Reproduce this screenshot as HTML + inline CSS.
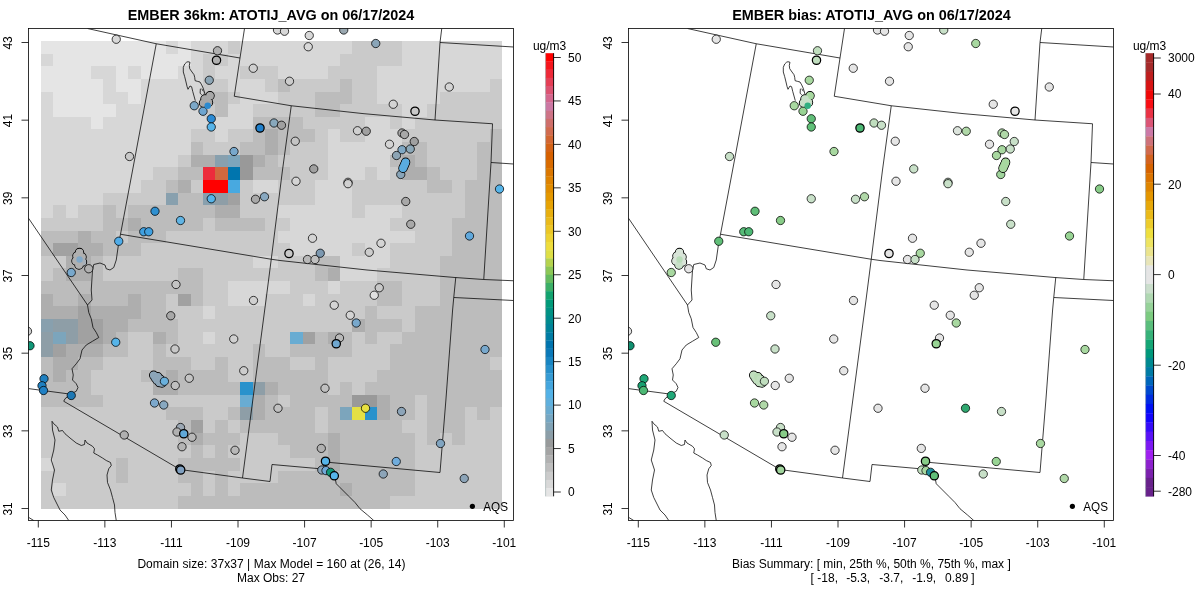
<!DOCTYPE html>
<html><head><meta charset="utf-8"><title>EMBER</title>
<style>
html,body{margin:0;padding:0;background:#fff;}
body{width:1200px;height:600px;overflow:hidden;}
svg{display:block;will-change:transform;}
text{font-family:"Liberation Sans",sans-serif;font-size:12px;fill:#000;}
.ttl{font-size:14.4px;font-weight:bold;}
.b polyline{fill:none;stroke:#000;stroke-width:0.75;stroke-linejoin:round;}
.p circle{stroke:#000;}
</style></head><body>
<svg width="1200" height="600" viewBox="0 0 1200 600">
<rect width="1200" height="600" fill="#fff"/>
<defs>
<clipPath id="cl"><rect x="28.5" y="28.5" width="485" height="492"/></clipPath>
<clipPath id="cr"><rect x="628.5" y="28.5" width="485" height="492"/></clipPath>
</defs>
<g clip-path="url(#cl)">
<g shape-rendering="crispEdges">
<rect x="41.00" y="41.00" width="124.89" height="12.94" fill="#E5E5E5"/>
<rect x="165.59" y="41.00" width="12.76" height="12.94" fill="#D7D7D7"/>
<rect x="178.05" y="41.00" width="12.76" height="12.94" fill="#E5E5E5"/>
<rect x="190.51" y="41.00" width="37.68" height="12.94" fill="#D7D7D7"/>
<rect x="227.89" y="41.00" width="12.76" height="12.94" fill="#CACACA"/>
<rect x="240.35" y="41.00" width="112.44" height="12.94" fill="#D7D7D7"/>
<rect x="352.49" y="41.00" width="50.14" height="12.94" fill="#CACACA"/>
<rect x="402.32" y="41.00" width="99.98" height="12.94" fill="#D7D7D7"/>
<rect x="41.00" y="53.64" width="12.76" height="12.94" fill="#D7D7D7"/>
<rect x="53.46" y="53.64" width="137.35" height="12.94" fill="#E5E5E5"/>
<rect x="190.51" y="53.64" width="12.76" height="12.94" fill="#D7D7D7"/>
<rect x="202.97" y="53.64" width="25.22" height="12.94" fill="#CACACA"/>
<rect x="227.89" y="53.64" width="112.44" height="12.94" fill="#D7D7D7"/>
<rect x="340.03" y="53.64" width="62.60" height="12.94" fill="#CACACA"/>
<rect x="402.32" y="53.64" width="99.98" height="12.94" fill="#D7D7D7"/>
<rect x="41.00" y="66.27" width="50.14" height="12.94" fill="#E5E5E5"/>
<rect x="90.84" y="66.27" width="25.22" height="12.94" fill="#D7D7D7"/>
<rect x="115.76" y="66.27" width="12.76" height="12.94" fill="#E5E5E5"/>
<rect x="128.22" y="66.27" width="12.76" height="12.94" fill="#D7D7D7"/>
<rect x="140.68" y="66.27" width="37.68" height="12.94" fill="#E5E5E5"/>
<rect x="178.05" y="66.27" width="25.22" height="12.94" fill="#D7D7D7"/>
<rect x="202.97" y="66.27" width="12.76" height="12.94" fill="#CACACA"/>
<rect x="215.43" y="66.27" width="25.22" height="12.94" fill="#D7D7D7"/>
<rect x="240.35" y="66.27" width="37.68" height="12.94" fill="#CACACA"/>
<rect x="277.73" y="66.27" width="50.14" height="12.94" fill="#D7D7D7"/>
<rect x="327.57" y="66.27" width="50.14" height="12.94" fill="#CACACA"/>
<rect x="377.41" y="66.27" width="124.89" height="12.94" fill="#D7D7D7"/>
<rect x="41.00" y="78.91" width="62.60" height="12.94" fill="#E5E5E5"/>
<rect x="103.30" y="78.91" width="12.76" height="12.94" fill="#D7D7D7"/>
<rect x="115.76" y="78.91" width="25.22" height="12.94" fill="#E5E5E5"/>
<rect x="140.68" y="78.91" width="62.60" height="12.94" fill="#D7D7D7"/>
<rect x="202.97" y="78.91" width="25.22" height="12.94" fill="#CACACA"/>
<rect x="227.89" y="78.91" width="37.68" height="12.94" fill="#D7D7D7"/>
<rect x="265.27" y="78.91" width="12.76" height="12.94" fill="#CACACA"/>
<rect x="277.73" y="78.91" width="12.76" height="12.94" fill="#BCBCBC"/>
<rect x="290.19" y="78.91" width="50.14" height="12.94" fill="#CACACA"/>
<rect x="340.03" y="78.91" width="12.76" height="12.94" fill="#BCBCBC"/>
<rect x="352.49" y="78.91" width="25.22" height="12.94" fill="#CACACA"/>
<rect x="377.41" y="78.91" width="112.44" height="12.94" fill="#D7D7D7"/>
<rect x="489.54" y="78.91" width="12.76" height="12.94" fill="#CACACA"/>
<rect x="41.00" y="91.54" width="12.76" height="12.94" fill="#D7D7D7"/>
<rect x="53.46" y="91.54" width="50.14" height="12.94" fill="#E5E5E5"/>
<rect x="103.30" y="91.54" width="25.22" height="12.94" fill="#D7D7D7"/>
<rect x="128.22" y="91.54" width="12.76" height="12.94" fill="#E5E5E5"/>
<rect x="140.68" y="91.54" width="62.60" height="12.94" fill="#D7D7D7"/>
<rect x="202.97" y="91.54" width="25.22" height="12.94" fill="#BCBCBC"/>
<rect x="227.89" y="91.54" width="12.76" height="12.94" fill="#CACACA"/>
<rect x="240.35" y="91.54" width="37.68" height="12.94" fill="#D7D7D7"/>
<rect x="277.73" y="91.54" width="37.68" height="12.94" fill="#CACACA"/>
<rect x="315.11" y="91.54" width="37.68" height="12.94" fill="#BCBCBC"/>
<rect x="352.49" y="91.54" width="25.22" height="12.94" fill="#CACACA"/>
<rect x="377.41" y="91.54" width="62.60" height="12.94" fill="#D7D7D7"/>
<rect x="439.70" y="91.54" width="62.60" height="12.94" fill="#CACACA"/>
<rect x="41.00" y="104.18" width="12.76" height="12.94" fill="#D7D7D7"/>
<rect x="53.46" y="104.18" width="62.60" height="12.94" fill="#E5E5E5"/>
<rect x="115.76" y="104.18" width="87.52" height="12.94" fill="#D7D7D7"/>
<rect x="202.97" y="104.18" width="12.76" height="12.94" fill="#CACACA"/>
<rect x="215.43" y="104.18" width="12.76" height="12.94" fill="#BCBCBC"/>
<rect x="227.89" y="104.18" width="25.22" height="12.94" fill="#D7D7D7"/>
<rect x="252.81" y="104.18" width="62.60" height="12.94" fill="#CACACA"/>
<rect x="315.11" y="104.18" width="25.22" height="12.94" fill="#BCBCBC"/>
<rect x="340.03" y="104.18" width="62.60" height="12.94" fill="#CACACA"/>
<rect x="402.32" y="104.18" width="25.22" height="12.94" fill="#D7D7D7"/>
<rect x="427.24" y="104.18" width="75.06" height="12.94" fill="#CACACA"/>
<rect x="41.00" y="116.81" width="50.14" height="12.94" fill="#D7D7D7"/>
<rect x="90.84" y="116.81" width="12.76" height="12.94" fill="#E5E5E5"/>
<rect x="103.30" y="116.81" width="149.81" height="12.94" fill="#D7D7D7"/>
<rect x="252.81" y="116.81" width="50.14" height="12.94" fill="#BCBCBC"/>
<rect x="302.65" y="116.81" width="62.60" height="12.94" fill="#CACACA"/>
<rect x="364.95" y="116.81" width="25.22" height="12.94" fill="#D7D7D7"/>
<rect x="389.86" y="116.81" width="12.76" height="12.94" fill="#CACACA"/>
<rect x="402.32" y="116.81" width="12.76" height="12.94" fill="#D7D7D7"/>
<rect x="414.78" y="116.81" width="87.52" height="12.94" fill="#CACACA"/>
<rect x="41.00" y="129.45" width="149.81" height="12.94" fill="#D7D7D7"/>
<rect x="190.51" y="129.45" width="25.22" height="12.94" fill="#CACACA"/>
<rect x="215.43" y="129.45" width="12.76" height="12.94" fill="#D7D7D7"/>
<rect x="227.89" y="129.45" width="25.22" height="12.94" fill="#CACACA"/>
<rect x="252.81" y="129.45" width="12.76" height="12.94" fill="#BCBCBC"/>
<rect x="265.27" y="129.45" width="12.76" height="12.94" fill="#AEAEAE"/>
<rect x="277.73" y="129.45" width="37.68" height="12.94" fill="#BCBCBC"/>
<rect x="315.11" y="129.45" width="12.76" height="12.94" fill="#CACACA"/>
<rect x="327.57" y="129.45" width="12.76" height="12.94" fill="#D7D7D7"/>
<rect x="340.03" y="129.45" width="25.22" height="12.94" fill="#CACACA"/>
<rect x="364.95" y="129.45" width="37.68" height="12.94" fill="#D7D7D7"/>
<rect x="402.32" y="129.45" width="87.52" height="12.94" fill="#CACACA"/>
<rect x="489.54" y="129.45" width="12.76" height="12.94" fill="#BCBCBC"/>
<rect x="41.00" y="142.08" width="149.81" height="12.94" fill="#D7D7D7"/>
<rect x="190.51" y="142.08" width="12.76" height="12.94" fill="#BCBCBC"/>
<rect x="202.97" y="142.08" width="37.68" height="12.94" fill="#CACACA"/>
<rect x="240.35" y="142.08" width="25.22" height="12.94" fill="#BCBCBC"/>
<rect x="265.27" y="142.08" width="12.76" height="12.94" fill="#AEAEAE"/>
<rect x="277.73" y="142.08" width="12.76" height="12.94" fill="#BCBCBC"/>
<rect x="290.19" y="142.08" width="37.68" height="12.94" fill="#CACACA"/>
<rect x="327.57" y="142.08" width="75.06" height="12.94" fill="#D7D7D7"/>
<rect x="402.32" y="142.08" width="25.22" height="12.94" fill="#BCBCBC"/>
<rect x="427.24" y="142.08" width="50.14" height="12.94" fill="#CACACA"/>
<rect x="477.08" y="142.08" width="25.22" height="12.94" fill="#BCBCBC"/>
<rect x="41.00" y="154.72" width="137.35" height="12.94" fill="#D7D7D7"/>
<rect x="178.05" y="154.72" width="12.76" height="12.94" fill="#CACACA"/>
<rect x="190.51" y="154.72" width="25.22" height="12.94" fill="#AEAEAE"/>
<rect x="215.43" y="154.72" width="12.76" height="12.94" fill="#88A0AE"/>
<rect x="227.89" y="154.72" width="12.76" height="12.94" fill="#7CA5BC"/>
<rect x="240.35" y="154.72" width="12.76" height="12.94" fill="#999999"/>
<rect x="252.81" y="154.72" width="12.76" height="12.94" fill="#AEAEAE"/>
<rect x="265.27" y="154.72" width="12.76" height="12.94" fill="#BCBCBC"/>
<rect x="277.73" y="154.72" width="50.14" height="12.94" fill="#CACACA"/>
<rect x="327.57" y="154.72" width="62.60" height="12.94" fill="#D7D7D7"/>
<rect x="389.86" y="154.72" width="12.76" height="12.94" fill="#BCBCBC"/>
<rect x="402.32" y="154.72" width="12.76" height="12.94" fill="#AEAEAE"/>
<rect x="414.78" y="154.72" width="12.76" height="12.94" fill="#BCBCBC"/>
<rect x="427.24" y="154.72" width="50.14" height="12.94" fill="#CACACA"/>
<rect x="477.08" y="154.72" width="25.22" height="12.94" fill="#BCBCBC"/>
<rect x="41.00" y="167.35" width="112.44" height="12.94" fill="#D7D7D7"/>
<rect x="153.14" y="167.35" width="25.22" height="12.94" fill="#CACACA"/>
<rect x="178.05" y="167.35" width="25.22" height="12.94" fill="#BCBCBC"/>
<rect x="202.97" y="167.35" width="12.76" height="12.94" fill="#ED2C3C"/>
<rect x="215.43" y="167.35" width="12.76" height="12.94" fill="#D2683F"/>
<rect x="227.89" y="167.35" width="12.76" height="12.94" fill="#0075AE"/>
<rect x="240.35" y="167.35" width="12.76" height="12.94" fill="#999999"/>
<rect x="252.81" y="167.35" width="37.68" height="12.94" fill="#BCBCBC"/>
<rect x="290.19" y="167.35" width="37.68" height="12.94" fill="#CACACA"/>
<rect x="327.57" y="167.35" width="37.68" height="12.94" fill="#D7D7D7"/>
<rect x="364.95" y="167.35" width="12.76" height="12.94" fill="#CACACA"/>
<rect x="377.41" y="167.35" width="12.76" height="12.94" fill="#D7D7D7"/>
<rect x="389.86" y="167.35" width="12.76" height="12.94" fill="#CACACA"/>
<rect x="402.32" y="167.35" width="25.22" height="12.94" fill="#AEAEAE"/>
<rect x="427.24" y="167.35" width="12.76" height="12.94" fill="#BCBCBC"/>
<rect x="439.70" y="167.35" width="37.68" height="12.94" fill="#CACACA"/>
<rect x="477.08" y="167.35" width="25.22" height="12.94" fill="#BCBCBC"/>
<rect x="41.00" y="179.99" width="99.98" height="12.94" fill="#D7D7D7"/>
<rect x="140.68" y="179.99" width="25.22" height="12.94" fill="#CACACA"/>
<rect x="165.59" y="179.99" width="12.76" height="12.94" fill="#BCBCBC"/>
<rect x="178.05" y="179.99" width="12.76" height="12.94" fill="#AEAEAE"/>
<rect x="190.51" y="179.99" width="12.76" height="12.94" fill="#CACACA"/>
<rect x="202.97" y="179.99" width="25.22" height="12.94" fill="#FF0000"/>
<rect x="227.89" y="179.99" width="12.76" height="12.94" fill="#48A9E0"/>
<rect x="240.35" y="179.99" width="12.76" height="12.94" fill="#CACACA"/>
<rect x="252.81" y="179.99" width="25.22" height="12.94" fill="#D7D7D7"/>
<rect x="277.73" y="179.99" width="37.68" height="12.94" fill="#CACACA"/>
<rect x="315.11" y="179.99" width="37.68" height="12.94" fill="#D7D7D7"/>
<rect x="352.49" y="179.99" width="75.06" height="12.94" fill="#CACACA"/>
<rect x="427.24" y="179.99" width="25.22" height="12.94" fill="#BCBCBC"/>
<rect x="452.16" y="179.99" width="12.76" height="12.94" fill="#CACACA"/>
<rect x="464.62" y="179.99" width="37.68" height="12.94" fill="#BCBCBC"/>
<rect x="41.00" y="192.62" width="62.60" height="12.94" fill="#D7D7D7"/>
<rect x="103.30" y="192.62" width="62.60" height="12.94" fill="#CACACA"/>
<rect x="165.59" y="192.62" width="12.76" height="12.94" fill="#88A0AE"/>
<rect x="178.05" y="192.62" width="25.22" height="12.94" fill="#BCBCBC"/>
<rect x="202.97" y="192.62" width="12.76" height="12.94" fill="#88A0AE"/>
<rect x="215.43" y="192.62" width="12.76" height="12.94" fill="#8E9EA7"/>
<rect x="227.89" y="192.62" width="12.76" height="12.94" fill="#A1A1A1"/>
<rect x="240.35" y="192.62" width="75.06" height="12.94" fill="#CACACA"/>
<rect x="315.11" y="192.62" width="37.68" height="12.94" fill="#D7D7D7"/>
<rect x="352.49" y="192.62" width="112.44" height="12.94" fill="#CACACA"/>
<rect x="464.62" y="192.62" width="37.68" height="12.94" fill="#BCBCBC"/>
<rect x="41.00" y="205.26" width="12.76" height="12.94" fill="#D7D7D7"/>
<rect x="53.46" y="205.26" width="12.76" height="12.94" fill="#CACACA"/>
<rect x="65.92" y="205.26" width="12.76" height="12.94" fill="#D7D7D7"/>
<rect x="78.38" y="205.26" width="25.22" height="12.94" fill="#CACACA"/>
<rect x="103.30" y="205.26" width="12.76" height="12.94" fill="#BCBCBC"/>
<rect x="115.76" y="205.26" width="12.76" height="12.94" fill="#CACACA"/>
<rect x="128.22" y="205.26" width="87.52" height="12.94" fill="#BCBCBC"/>
<rect x="215.43" y="205.26" width="25.22" height="12.94" fill="#AEAEAE"/>
<rect x="240.35" y="205.26" width="37.68" height="12.94" fill="#CACACA"/>
<rect x="277.73" y="205.26" width="75.06" height="12.94" fill="#D7D7D7"/>
<rect x="352.49" y="205.26" width="12.76" height="12.94" fill="#CACACA"/>
<rect x="364.95" y="205.26" width="37.68" height="12.94" fill="#D7D7D7"/>
<rect x="402.32" y="205.26" width="62.60" height="12.94" fill="#CACACA"/>
<rect x="464.62" y="205.26" width="37.68" height="12.94" fill="#BCBCBC"/>
<rect x="41.00" y="217.89" width="62.60" height="12.94" fill="#CACACA"/>
<rect x="103.30" y="217.89" width="25.22" height="12.94" fill="#BCBCBC"/>
<rect x="128.22" y="217.89" width="12.76" height="12.94" fill="#AEAEAE"/>
<rect x="140.68" y="217.89" width="62.60" height="12.94" fill="#BCBCBC"/>
<rect x="202.97" y="217.89" width="12.76" height="12.94" fill="#CACACA"/>
<rect x="215.43" y="217.89" width="50.14" height="12.94" fill="#BCBCBC"/>
<rect x="265.27" y="217.89" width="25.22" height="12.94" fill="#CACACA"/>
<rect x="290.19" y="217.89" width="99.98" height="12.94" fill="#D7D7D7"/>
<rect x="389.86" y="217.89" width="62.60" height="12.94" fill="#CACACA"/>
<rect x="452.16" y="217.89" width="50.14" height="12.94" fill="#BCBCBC"/>
<rect x="41.00" y="230.53" width="37.68" height="12.94" fill="#BCBCBC"/>
<rect x="78.38" y="230.53" width="12.76" height="12.94" fill="#AEAEAE"/>
<rect x="90.84" y="230.53" width="25.22" height="12.94" fill="#BCBCBC"/>
<rect x="115.76" y="230.53" width="12.76" height="12.94" fill="#CACACA"/>
<rect x="128.22" y="230.53" width="37.68" height="12.94" fill="#BCBCBC"/>
<rect x="165.59" y="230.53" width="112.44" height="12.94" fill="#CACACA"/>
<rect x="277.73" y="230.53" width="137.35" height="12.94" fill="#D7D7D7"/>
<rect x="414.78" y="230.53" width="37.68" height="12.94" fill="#CACACA"/>
<rect x="452.16" y="230.53" width="50.14" height="12.94" fill="#BCBCBC"/>
<rect x="41.00" y="243.16" width="12.76" height="12.94" fill="#BCBCBC"/>
<rect x="53.46" y="243.16" width="25.22" height="12.94" fill="#A1A1A1"/>
<rect x="78.38" y="243.16" width="25.22" height="12.94" fill="#AEAEAE"/>
<rect x="103.30" y="243.16" width="37.68" height="12.94" fill="#BCBCBC"/>
<rect x="140.68" y="243.16" width="149.81" height="12.94" fill="#CACACA"/>
<rect x="290.19" y="243.16" width="62.60" height="12.94" fill="#D7D7D7"/>
<rect x="352.49" y="243.16" width="12.76" height="12.94" fill="#CACACA"/>
<rect x="364.95" y="243.16" width="25.22" height="12.94" fill="#D7D7D7"/>
<rect x="389.86" y="243.16" width="62.60" height="12.94" fill="#CACACA"/>
<rect x="452.16" y="243.16" width="50.14" height="12.94" fill="#BCBCBC"/>
<rect x="41.00" y="255.80" width="25.22" height="12.94" fill="#CACACA"/>
<rect x="65.92" y="255.80" width="25.22" height="12.94" fill="#AEAEAE"/>
<rect x="90.84" y="255.80" width="12.76" height="12.94" fill="#BCBCBC"/>
<rect x="103.30" y="255.80" width="149.81" height="12.94" fill="#CACACA"/>
<rect x="252.81" y="255.80" width="25.22" height="12.94" fill="#D7D7D7"/>
<rect x="277.73" y="255.80" width="37.68" height="12.94" fill="#CACACA"/>
<rect x="315.11" y="255.80" width="25.22" height="12.94" fill="#BCBCBC"/>
<rect x="340.03" y="255.80" width="50.14" height="12.94" fill="#D7D7D7"/>
<rect x="389.86" y="255.80" width="50.14" height="12.94" fill="#CACACA"/>
<rect x="439.70" y="255.80" width="62.60" height="12.94" fill="#BCBCBC"/>
<rect x="41.00" y="268.43" width="12.76" height="12.94" fill="#CACACA"/>
<rect x="53.46" y="268.43" width="12.76" height="12.94" fill="#BCBCBC"/>
<rect x="65.92" y="268.43" width="25.22" height="12.94" fill="#AEAEAE"/>
<rect x="90.84" y="268.43" width="12.76" height="12.94" fill="#BCBCBC"/>
<rect x="103.30" y="268.43" width="75.06" height="12.94" fill="#CACACA"/>
<rect x="178.05" y="268.43" width="25.22" height="12.94" fill="#BCBCBC"/>
<rect x="202.97" y="268.43" width="112.44" height="12.94" fill="#CACACA"/>
<rect x="315.11" y="268.43" width="12.76" height="12.94" fill="#BCBCBC"/>
<rect x="327.57" y="268.43" width="12.76" height="12.94" fill="#AEAEAE"/>
<rect x="340.03" y="268.43" width="37.68" height="12.94" fill="#D7D7D7"/>
<rect x="377.41" y="268.43" width="62.60" height="12.94" fill="#CACACA"/>
<rect x="439.70" y="268.43" width="62.60" height="12.94" fill="#BCBCBC"/>
<rect x="41.00" y="281.07" width="162.27" height="12.94" fill="#BCBCBC"/>
<rect x="202.97" y="281.07" width="25.22" height="12.94" fill="#CACACA"/>
<rect x="227.89" y="281.07" width="62.60" height="12.94" fill="#D7D7D7"/>
<rect x="290.19" y="281.07" width="37.68" height="12.94" fill="#CACACA"/>
<rect x="327.57" y="281.07" width="12.76" height="12.94" fill="#D7D7D7"/>
<rect x="340.03" y="281.07" width="37.68" height="12.94" fill="#CACACA"/>
<rect x="377.41" y="281.07" width="25.22" height="12.94" fill="#BCBCBC"/>
<rect x="402.32" y="281.07" width="37.68" height="12.94" fill="#CACACA"/>
<rect x="439.70" y="281.07" width="62.60" height="12.94" fill="#BCBCBC"/>
<rect x="41.00" y="293.70" width="12.76" height="12.94" fill="#AEAEAE"/>
<rect x="53.46" y="293.70" width="25.22" height="12.94" fill="#BCBCBC"/>
<rect x="78.38" y="293.70" width="12.76" height="12.94" fill="#AEAEAE"/>
<rect x="90.84" y="293.70" width="37.68" height="12.94" fill="#BCBCBC"/>
<rect x="128.22" y="293.70" width="12.76" height="12.94" fill="#AEAEAE"/>
<rect x="140.68" y="293.70" width="25.22" height="12.94" fill="#BCBCBC"/>
<rect x="165.59" y="293.70" width="12.76" height="12.94" fill="#CACACA"/>
<rect x="178.05" y="293.70" width="12.76" height="12.94" fill="#A1A1A1"/>
<rect x="190.51" y="293.70" width="12.76" height="12.94" fill="#BCBCBC"/>
<rect x="202.97" y="293.70" width="25.22" height="12.94" fill="#CACACA"/>
<rect x="227.89" y="293.70" width="37.68" height="12.94" fill="#D7D7D7"/>
<rect x="265.27" y="293.70" width="37.68" height="12.94" fill="#CACACA"/>
<rect x="302.65" y="293.70" width="12.76" height="12.94" fill="#D7D7D7"/>
<rect x="315.11" y="293.70" width="62.60" height="12.94" fill="#CACACA"/>
<rect x="377.41" y="293.70" width="25.22" height="12.94" fill="#BCBCBC"/>
<rect x="402.32" y="293.70" width="37.68" height="12.94" fill="#CACACA"/>
<rect x="439.70" y="293.70" width="62.60" height="12.94" fill="#BCBCBC"/>
<rect x="41.00" y="306.34" width="37.68" height="12.94" fill="#AEAEAE"/>
<rect x="78.38" y="306.34" width="12.76" height="12.94" fill="#A1A1A1"/>
<rect x="90.84" y="306.34" width="50.14" height="12.94" fill="#AEAEAE"/>
<rect x="140.68" y="306.34" width="25.22" height="12.94" fill="#BCBCBC"/>
<rect x="165.59" y="306.34" width="37.68" height="12.94" fill="#CACACA"/>
<rect x="202.97" y="306.34" width="12.76" height="12.94" fill="#D7D7D7"/>
<rect x="215.43" y="306.34" width="149.81" height="12.94" fill="#CACACA"/>
<rect x="364.95" y="306.34" width="12.76" height="12.94" fill="#BCBCBC"/>
<rect x="377.41" y="306.34" width="37.68" height="12.94" fill="#CACACA"/>
<rect x="414.78" y="306.34" width="87.52" height="12.94" fill="#BCBCBC"/>
<rect x="41.00" y="318.97" width="12.76" height="12.94" fill="#88A0AE"/>
<rect x="53.46" y="318.97" width="25.22" height="12.94" fill="#8E9EA7"/>
<rect x="78.38" y="318.97" width="25.22" height="12.94" fill="#A1A1A1"/>
<rect x="103.30" y="318.97" width="25.22" height="12.94" fill="#AEAEAE"/>
<rect x="128.22" y="318.97" width="50.14" height="12.94" fill="#BCBCBC"/>
<rect x="178.05" y="318.97" width="174.73" height="12.94" fill="#CACACA"/>
<rect x="352.49" y="318.97" width="12.76" height="12.94" fill="#AEAEAE"/>
<rect x="364.95" y="318.97" width="37.68" height="12.94" fill="#BCBCBC"/>
<rect x="402.32" y="318.97" width="12.76" height="12.94" fill="#CACACA"/>
<rect x="414.78" y="318.97" width="87.52" height="12.94" fill="#BCBCBC"/>
<rect x="41.00" y="331.61" width="12.76" height="12.94" fill="#8E9EA7"/>
<rect x="53.46" y="331.61" width="12.76" height="12.94" fill="#7CA5BC"/>
<rect x="65.92" y="331.61" width="12.76" height="12.94" fill="#8E9EA7"/>
<rect x="78.38" y="331.61" width="25.22" height="12.94" fill="#A1A1A1"/>
<rect x="103.30" y="331.61" width="12.76" height="12.94" fill="#AEAEAE"/>
<rect x="115.76" y="331.61" width="12.76" height="12.94" fill="#BCBCBC"/>
<rect x="128.22" y="331.61" width="25.22" height="12.94" fill="#CACACA"/>
<rect x="153.14" y="331.61" width="12.76" height="12.94" fill="#AEAEAE"/>
<rect x="165.59" y="331.61" width="12.76" height="12.94" fill="#BCBCBC"/>
<rect x="178.05" y="331.61" width="25.22" height="12.94" fill="#CACACA"/>
<rect x="202.97" y="331.61" width="12.76" height="12.94" fill="#D7D7D7"/>
<rect x="215.43" y="331.61" width="75.06" height="12.94" fill="#CACACA"/>
<rect x="290.19" y="331.61" width="12.76" height="12.94" fill="#69ACD2"/>
<rect x="302.65" y="331.61" width="12.76" height="12.94" fill="#A1A1A1"/>
<rect x="315.11" y="331.61" width="12.76" height="12.94" fill="#BCBCBC"/>
<rect x="327.57" y="331.61" width="12.76" height="12.94" fill="#AEAEAE"/>
<rect x="340.03" y="331.61" width="12.76" height="12.94" fill="#BCBCBC"/>
<rect x="352.49" y="331.61" width="12.76" height="12.94" fill="#CACACA"/>
<rect x="364.95" y="331.61" width="12.76" height="12.94" fill="#BCBCBC"/>
<rect x="377.41" y="331.61" width="25.22" height="12.94" fill="#CACACA"/>
<rect x="402.32" y="331.61" width="99.98" height="12.94" fill="#BCBCBC"/>
<rect x="41.00" y="344.24" width="12.76" height="12.94" fill="#8E9EA7"/>
<rect x="53.46" y="344.24" width="12.76" height="12.94" fill="#A1A1A1"/>
<rect x="65.92" y="344.24" width="37.68" height="12.94" fill="#AEAEAE"/>
<rect x="103.30" y="344.24" width="25.22" height="12.94" fill="#BCBCBC"/>
<rect x="128.22" y="344.24" width="25.22" height="12.94" fill="#CACACA"/>
<rect x="153.14" y="344.24" width="12.76" height="12.94" fill="#BCBCBC"/>
<rect x="165.59" y="344.24" width="87.52" height="12.94" fill="#CACACA"/>
<rect x="252.81" y="344.24" width="12.76" height="12.94" fill="#BCBCBC"/>
<rect x="265.27" y="344.24" width="25.22" height="12.94" fill="#CACACA"/>
<rect x="290.19" y="344.24" width="62.60" height="12.94" fill="#BCBCBC"/>
<rect x="352.49" y="344.24" width="37.68" height="12.94" fill="#CACACA"/>
<rect x="389.86" y="344.24" width="112.44" height="12.94" fill="#BCBCBC"/>
<rect x="41.00" y="356.88" width="12.76" height="12.94" fill="#BCBCBC"/>
<rect x="53.46" y="356.88" width="25.22" height="12.94" fill="#AEAEAE"/>
<rect x="78.38" y="356.88" width="25.22" height="12.94" fill="#BCBCBC"/>
<rect x="103.30" y="356.88" width="50.14" height="12.94" fill="#CACACA"/>
<rect x="153.14" y="356.88" width="37.68" height="12.94" fill="#BCBCBC"/>
<rect x="190.51" y="356.88" width="25.22" height="12.94" fill="#CACACA"/>
<rect x="215.43" y="356.88" width="12.76" height="12.94" fill="#BCBCBC"/>
<rect x="227.89" y="356.88" width="25.22" height="12.94" fill="#CACACA"/>
<rect x="252.81" y="356.88" width="37.68" height="12.94" fill="#BCBCBC"/>
<rect x="290.19" y="356.88" width="25.22" height="12.94" fill="#CACACA"/>
<rect x="315.11" y="356.88" width="12.76" height="12.94" fill="#BCBCBC"/>
<rect x="327.57" y="356.88" width="62.60" height="12.94" fill="#CACACA"/>
<rect x="389.86" y="356.88" width="99.98" height="12.94" fill="#BCBCBC"/>
<rect x="489.54" y="356.88" width="12.76" height="12.94" fill="#CACACA"/>
<rect x="41.00" y="369.51" width="12.76" height="12.94" fill="#BCBCBC"/>
<rect x="53.46" y="369.51" width="12.76" height="12.94" fill="#AEAEAE"/>
<rect x="65.92" y="369.51" width="25.22" height="12.94" fill="#BCBCBC"/>
<rect x="90.84" y="369.51" width="50.14" height="12.94" fill="#CACACA"/>
<rect x="140.68" y="369.51" width="25.22" height="12.94" fill="#BCBCBC"/>
<rect x="165.59" y="369.51" width="12.76" height="12.94" fill="#AEAEAE"/>
<rect x="178.05" y="369.51" width="50.14" height="12.94" fill="#BCBCBC"/>
<rect x="227.89" y="369.51" width="25.22" height="12.94" fill="#CACACA"/>
<rect x="252.81" y="369.51" width="75.06" height="12.94" fill="#BCBCBC"/>
<rect x="327.57" y="369.51" width="50.14" height="12.94" fill="#CACACA"/>
<rect x="377.41" y="369.51" width="124.89" height="12.94" fill="#BCBCBC"/>
<rect x="41.00" y="382.15" width="50.14" height="12.94" fill="#BCBCBC"/>
<rect x="90.84" y="382.15" width="62.60" height="12.94" fill="#CACACA"/>
<rect x="153.14" y="382.15" width="25.22" height="12.94" fill="#AEAEAE"/>
<rect x="178.05" y="382.15" width="62.60" height="12.94" fill="#BCBCBC"/>
<rect x="240.35" y="382.15" width="12.76" height="12.94" fill="#2992CC"/>
<rect x="252.81" y="382.15" width="12.76" height="12.94" fill="#8E9EA7"/>
<rect x="265.27" y="382.15" width="12.76" height="12.94" fill="#AEAEAE"/>
<rect x="277.73" y="382.15" width="50.14" height="12.94" fill="#BCBCBC"/>
<rect x="327.57" y="382.15" width="12.76" height="12.94" fill="#CACACA"/>
<rect x="340.03" y="382.15" width="12.76" height="12.94" fill="#BCBCBC"/>
<rect x="352.49" y="382.15" width="12.76" height="12.94" fill="#CACACA"/>
<rect x="364.95" y="382.15" width="137.35" height="12.94" fill="#BCBCBC"/>
<rect x="41.00" y="394.78" width="62.60" height="12.94" fill="#BCBCBC"/>
<rect x="103.30" y="394.78" width="137.35" height="12.94" fill="#CACACA"/>
<rect x="240.35" y="394.78" width="12.76" height="12.94" fill="#69ACD2"/>
<rect x="252.81" y="394.78" width="12.76" height="12.94" fill="#AEAEAE"/>
<rect x="265.27" y="394.78" width="12.76" height="12.94" fill="#BCBCBC"/>
<rect x="277.73" y="394.78" width="12.76" height="12.94" fill="#CACACA"/>
<rect x="290.19" y="394.78" width="62.60" height="12.94" fill="#BCBCBC"/>
<rect x="352.49" y="394.78" width="25.22" height="12.94" fill="#999999"/>
<rect x="377.41" y="394.78" width="12.76" height="12.94" fill="#AEAEAE"/>
<rect x="389.86" y="394.78" width="25.22" height="12.94" fill="#BCBCBC"/>
<rect x="414.78" y="394.78" width="12.76" height="12.94" fill="#CACACA"/>
<rect x="427.24" y="394.78" width="75.06" height="12.94" fill="#BCBCBC"/>
<rect x="41.00" y="407.42" width="124.89" height="12.94" fill="#CACACA"/>
<rect x="165.59" y="407.42" width="37.68" height="12.94" fill="#BCBCBC"/>
<rect x="202.97" y="407.42" width="25.22" height="12.94" fill="#CACACA"/>
<rect x="227.89" y="407.42" width="12.76" height="12.94" fill="#BCBCBC"/>
<rect x="240.35" y="407.42" width="12.76" height="12.94" fill="#8E9EA7"/>
<rect x="252.81" y="407.42" width="12.76" height="12.94" fill="#AEAEAE"/>
<rect x="265.27" y="407.42" width="50.14" height="12.94" fill="#BCBCBC"/>
<rect x="315.11" y="407.42" width="12.76" height="12.94" fill="#CACACA"/>
<rect x="327.57" y="407.42" width="12.76" height="12.94" fill="#BCBCBC"/>
<rect x="340.03" y="407.42" width="12.76" height="12.94" fill="#7CA5BC"/>
<rect x="352.49" y="407.42" width="12.76" height="12.94" fill="#E4E044"/>
<rect x="364.95" y="407.42" width="12.76" height="12.94" fill="#2992CC"/>
<rect x="377.41" y="407.42" width="12.76" height="12.94" fill="#AEAEAE"/>
<rect x="389.86" y="407.42" width="25.22" height="12.94" fill="#BCBCBC"/>
<rect x="414.78" y="407.42" width="12.76" height="12.94" fill="#CACACA"/>
<rect x="427.24" y="407.42" width="37.68" height="12.94" fill="#BCBCBC"/>
<rect x="464.62" y="407.42" width="12.76" height="12.94" fill="#CACACA"/>
<rect x="477.08" y="407.42" width="12.76" height="12.94" fill="#BCBCBC"/>
<rect x="489.54" y="407.42" width="12.76" height="12.94" fill="#CACACA"/>
<rect x="41.00" y="420.05" width="137.35" height="12.94" fill="#CACACA"/>
<rect x="178.05" y="420.05" width="12.76" height="12.94" fill="#BCBCBC"/>
<rect x="190.51" y="420.05" width="12.76" height="12.94" fill="#A1A1A1"/>
<rect x="202.97" y="420.05" width="12.76" height="12.94" fill="#CACACA"/>
<rect x="215.43" y="420.05" width="12.76" height="12.94" fill="#BCBCBC"/>
<rect x="227.89" y="420.05" width="12.76" height="12.94" fill="#CACACA"/>
<rect x="240.35" y="420.05" width="75.06" height="12.94" fill="#BCBCBC"/>
<rect x="315.11" y="420.05" width="12.76" height="12.94" fill="#CACACA"/>
<rect x="327.57" y="420.05" width="75.06" height="12.94" fill="#BCBCBC"/>
<rect x="402.32" y="420.05" width="25.22" height="12.94" fill="#CACACA"/>
<rect x="427.24" y="420.05" width="37.68" height="12.94" fill="#BCBCBC"/>
<rect x="464.62" y="420.05" width="37.68" height="12.94" fill="#CACACA"/>
<rect x="41.00" y="432.69" width="137.35" height="12.94" fill="#CACACA"/>
<rect x="178.05" y="432.69" width="12.76" height="12.94" fill="#BCBCBC"/>
<rect x="190.51" y="432.69" width="12.76" height="12.94" fill="#AEAEAE"/>
<rect x="202.97" y="432.69" width="37.68" height="12.94" fill="#BCBCBC"/>
<rect x="240.35" y="432.69" width="37.68" height="12.94" fill="#CACACA"/>
<rect x="277.73" y="432.69" width="50.14" height="12.94" fill="#BCBCBC"/>
<rect x="327.57" y="432.69" width="12.76" height="12.94" fill="#AEAEAE"/>
<rect x="340.03" y="432.69" width="75.06" height="12.94" fill="#BCBCBC"/>
<rect x="414.78" y="432.69" width="12.76" height="12.94" fill="#CACACA"/>
<rect x="427.24" y="432.69" width="12.76" height="12.94" fill="#BCBCBC"/>
<rect x="439.70" y="432.69" width="12.76" height="12.94" fill="#CACACA"/>
<rect x="452.16" y="432.69" width="12.76" height="12.94" fill="#BCBCBC"/>
<rect x="464.62" y="432.69" width="37.68" height="12.94" fill="#CACACA"/>
<rect x="41.00" y="445.32" width="149.81" height="12.94" fill="#CACACA"/>
<rect x="190.51" y="445.32" width="12.76" height="12.94" fill="#BCBCBC"/>
<rect x="202.97" y="445.32" width="12.76" height="12.94" fill="#CACACA"/>
<rect x="215.43" y="445.32" width="12.76" height="12.94" fill="#BCBCBC"/>
<rect x="227.89" y="445.32" width="62.60" height="12.94" fill="#CACACA"/>
<rect x="290.19" y="445.32" width="37.68" height="12.94" fill="#BCBCBC"/>
<rect x="327.57" y="445.32" width="12.76" height="12.94" fill="#AEAEAE"/>
<rect x="340.03" y="445.32" width="75.06" height="12.94" fill="#BCBCBC"/>
<rect x="414.78" y="445.32" width="87.52" height="12.94" fill="#CACACA"/>
<rect x="41.00" y="457.96" width="12.76" height="12.94" fill="#D7D7D7"/>
<rect x="53.46" y="457.96" width="62.60" height="12.94" fill="#CACACA"/>
<rect x="115.76" y="457.96" width="12.76" height="12.94" fill="#BCBCBC"/>
<rect x="128.22" y="457.96" width="50.14" height="12.94" fill="#CACACA"/>
<rect x="178.05" y="457.96" width="62.60" height="12.94" fill="#BCBCBC"/>
<rect x="240.35" y="457.96" width="75.06" height="12.94" fill="#CACACA"/>
<rect x="315.11" y="457.96" width="12.76" height="12.94" fill="#BCBCBC"/>
<rect x="327.57" y="457.96" width="12.76" height="12.94" fill="#AEAEAE"/>
<rect x="340.03" y="457.96" width="75.06" height="12.94" fill="#BCBCBC"/>
<rect x="414.78" y="457.96" width="87.52" height="12.94" fill="#CACACA"/>
<rect x="41.00" y="470.59" width="75.06" height="12.94" fill="#CACACA"/>
<rect x="115.76" y="470.59" width="12.76" height="12.94" fill="#BCBCBC"/>
<rect x="128.22" y="470.59" width="50.14" height="12.94" fill="#CACACA"/>
<rect x="178.05" y="470.59" width="25.22" height="12.94" fill="#BCBCBC"/>
<rect x="202.97" y="470.59" width="12.76" height="12.94" fill="#CACACA"/>
<rect x="215.43" y="470.59" width="12.76" height="12.94" fill="#BCBCBC"/>
<rect x="227.89" y="470.59" width="50.14" height="12.94" fill="#CACACA"/>
<rect x="277.73" y="470.59" width="137.35" height="12.94" fill="#BCBCBC"/>
<rect x="414.78" y="470.59" width="87.52" height="12.94" fill="#CACACA"/>
<rect x="41.00" y="483.23" width="12.76" height="12.94" fill="#CACACA"/>
<rect x="53.46" y="483.23" width="12.76" height="12.94" fill="#D7D7D7"/>
<rect x="65.92" y="483.23" width="124.89" height="12.94" fill="#CACACA"/>
<rect x="190.51" y="483.23" width="12.76" height="12.94" fill="#BCBCBC"/>
<rect x="202.97" y="483.23" width="12.76" height="12.94" fill="#CACACA"/>
<rect x="215.43" y="483.23" width="12.76" height="12.94" fill="#BCBCBC"/>
<rect x="227.89" y="483.23" width="12.76" height="12.94" fill="#CACACA"/>
<rect x="240.35" y="483.23" width="99.98" height="12.94" fill="#BCBCBC"/>
<rect x="340.03" y="483.23" width="12.76" height="12.94" fill="#AEAEAE"/>
<rect x="352.49" y="483.23" width="62.60" height="12.94" fill="#BCBCBC"/>
<rect x="414.78" y="483.23" width="87.52" height="12.94" fill="#CACACA"/>
<rect x="41.00" y="495.86" width="137.35" height="12.94" fill="#CACACA"/>
<rect x="178.05" y="495.86" width="212.11" height="12.94" fill="#BCBCBC"/>
<rect x="389.86" y="495.86" width="112.44" height="12.94" fill="#CACACA"/>
</g>
<g class="b">
<polyline points="87.50,28.50 156.25,43.75 240.00,58.00"/>
<polyline points="156.25,43.75 134.50,160.00 120.50,234.25"/>
<polyline points="244.50,28.50 240.00,58.00 234.25,96.25"/>
<polyline points="234.25,96.25 291.25,105.75 363.00,113.60 435.00,120.00 492.50,123.75"/>
<polyline points="291.25,105.75 282.50,170.00 271.25,259.25 266.00,300.00 242.50,478.00"/>
<polyline points="441.75,28.50 440.00,42.50 435.00,120.00"/>
<polyline points="440.00,42.50 513.50,47.00"/>
<polyline points="492.50,123.75 491.00,162.50 483.75,279.50"/>
<polyline points="491.00,162.50 513.50,164.00"/>
<polyline points="120.50,234.25 271.25,259.25 280.00,260.50 367.00,270.00 455.00,277.50 483.75,279.50 513.50,280.75"/>
<polyline points="455.75,277.50 453.75,297.50 452.60,310.00 445.90,400.00 440.00,472.50"/>
<polyline points="453.75,297.50 513.50,300.50"/>
<polyline points="325.00,462.00 440.00,472.50"/>
<polyline points="63.75,401.25 180.00,469.50 242.50,478.00 270.00,481.50 272.00,464.50 320.00,468.75 322.50,470.00"/>
<polyline points="325.00,462.00 323.50,466.00 322.50,470.00 330.00,472.50 335.00,477.50 336.25,483.75 342.50,490.00 348.75,496.25 355.00,502.50 360.00,508.75 367.50,515.00 373.75,520.50"/>
<polyline points="28.50,218.20 87.50,305.00"/>
<polyline points="120.50,234.25 118.75,242.50 116.25,260.00 113.75,267.50 110.00,270.00 106.25,268.75 105.00,265.00 100.00,263.00 93.75,264.50 92.50,270.00 91.25,290.00 92.00,300.00 87.50,305.00 88.75,312.50 91.25,318.75 93.00,327.50 96.25,332.50 98.75,337.50 92.50,341.25 86.25,345.00 82.00,350.00 80.00,358.75 76.25,363.75 72.00,368.75 73.25,375.00 72.50,380.00 76.25,383.75 78.00,387.50 76.25,391.25 71.25,393.75 65.00,398.75 63.75,401.25"/>
<polyline points="28.50,388.60 71.25,394.25"/>
<polyline points="52.00,421.25 53.75,423.75 57.50,427.00 58.75,431.25 62.50,430.50 65.00,433.75 70.00,438.00 76.25,443.00 81.25,445.50 84.50,444.50 85.00,440.00 87.00,443.00 92.50,446.25 94.50,448.75 93.75,453.00 97.50,455.00 102.50,458.00 106.25,460.50 110.50,462.50 111.25,465.50 108.75,468.75 107.00,475.00 107.50,482.50 110.50,490.00 112.50,497.50 114.50,505.00 115.00,512.50 116.25,520.50"/>
<polyline points="52.00,421.25 52.50,430.00 55.00,440.00 53.75,450.00 51.25,460.00 54.50,470.00 52.50,480.00 51.25,490.00 53.75,497.50 57.50,505.00 60.00,510.00 65.00,515.00 68.75,520.50"/>
<polyline points="28.50,517.30 33.75,520.50"/>
<polyline points="195.30,100.70 194.00,96.00 192.70,91.30 191.60,86.70 190.00,86.00 188.00,89.30 187.10,86.70 186.00,82.00 184.70,76.70 183.30,72.00 183.30,67.30 184.70,64.00 186.60,62.20 188.00,61.70 190.00,62.30 189.30,65.30 189.70,68.70 192.00,72.00 194.00,74.70 194.70,77.30 195.10,80.70 197.30,81.30 200.00,82.00 201.70,84.90 203.10,88.00 204.00,90.70 204.90,94.00"/>
<polyline points="200.40,88.70 200.10,93.30 201.70,94.70"/>
<polyline points="201.70,88.70 203.30,91.30"/>
</g>
<g class="p">
<circle cx="116.25" cy="39.25" r="4.15" fill="#D8D8D8" stroke-width="0.75"/>
<circle cx="217.50" cy="50.75" r="4.15" fill="#B0B0B0" stroke-width="0.75"/>
<circle cx="216.50" cy="60.25" r="4.15" fill="#B0B0B0" stroke-width="1.25"/>
<circle cx="209.25" cy="80.25" r="4.15" fill="#8CA5B5" stroke-width="0.75"/>
<circle cx="210.00" cy="95.75" r="4.15" fill="#A8A8A8" stroke-width="1.1"/>
<circle cx="205.00" cy="99.00" r="4.15" fill="#A8A8A8" stroke-width="1.1"/>
<circle cx="208.50" cy="102.50" r="4.15" fill="#A8A8A8" stroke-width="1.1"/>
<circle cx="203.50" cy="103.00" r="4.15" fill="#A8A8A8" stroke-width="1.1"/>
<circle cx="194.25" cy="105.75" r="4.15" fill="#7CA8C8" stroke-width="0.75"/>
<circle cx="203.00" cy="111.25" r="4.15" fill="#6EA5D0" stroke-width="0.75"/>
<circle cx="211.25" cy="118.75" r="4.15" fill="#2A8AD4" stroke-width="0.75"/>
<circle cx="211.25" cy="127.00" r="4.15" fill="#56B4E9" stroke-width="0.75"/>
<circle cx="260.00" cy="128.00" r="4.15" fill="#2080CC" stroke-width="1.25"/>
<circle cx="274.00" cy="123.00" r="4.15" fill="#88A8BC" stroke-width="0.75"/>
<circle cx="281.50" cy="125.25" r="4.15" fill="#A0A0A0" stroke-width="0.75"/>
<circle cx="295.25" cy="141.25" r="4.15" fill="#C4C4C4" stroke-width="0.75"/>
<circle cx="234.00" cy="151.50" r="4.15" fill="#78A8CC" stroke-width="0.75"/>
<circle cx="129.50" cy="156.50" r="4.15" fill="#C8C8C8" stroke-width="0.75"/>
<circle cx="253.25" cy="68.25" r="4.15" fill="#D0D0D0" stroke-width="0.75"/>
<circle cx="289.50" cy="81.25" r="4.15" fill="#CCCCCC" stroke-width="0.75"/>
<circle cx="277.50" cy="30.00" r="4.15" fill="#D8D8D8" stroke-width="0.75"/>
<circle cx="284.50" cy="31.25" r="4.15" fill="#D8D8D8" stroke-width="0.75"/>
<circle cx="309.25" cy="35.50" r="4.15" fill="#D8D8D8" stroke-width="0.75"/>
<circle cx="308.25" cy="46.75" r="4.15" fill="#D8D8D8" stroke-width="0.75"/>
<circle cx="313.75" cy="168.90" r="4.15" fill="#A0A0A0" stroke-width="0.75"/>
<circle cx="343.75" cy="30.00" r="4.15" fill="#9AA8B0" stroke-width="0.75"/>
<circle cx="375.75" cy="43.50" r="4.15" fill="#8AA5B8" stroke-width="0.75"/>
<circle cx="449.25" cy="87.00" r="4.15" fill="#D4D4D4" stroke-width="0.75"/>
<circle cx="393.25" cy="104.25" r="4.15" fill="#D4D4D4" stroke-width="0.75"/>
<circle cx="415.00" cy="111.25" r="4.15" fill="#C8C8C8" stroke-width="1.25"/>
<circle cx="357.50" cy="130.75" r="4.15" fill="#D0D0D0" stroke-width="0.75"/>
<circle cx="366.25" cy="131.25" r="4.15" fill="#A0A0A0" stroke-width="0.75"/>
<circle cx="402.00" cy="133.00" r="4.15" fill="#A8A8A8" stroke-width="0.75"/>
<circle cx="404.50" cy="134.50" r="4.15" fill="#A8A8A8" stroke-width="0.75"/>
<circle cx="414.25" cy="141.50" r="4.15" fill="#A0A0A0" stroke-width="0.75"/>
<circle cx="389.50" cy="144.25" r="4.15" fill="#D4D4D4" stroke-width="0.75"/>
<circle cx="402.00" cy="149.75" r="4.15" fill="#80A8C4" stroke-width="0.75"/>
<circle cx="410.25" cy="149.00" r="4.15" fill="#8CA8B8" stroke-width="0.75"/>
<circle cx="396.50" cy="155.50" r="4.15" fill="#8CA4B4" stroke-width="0.75"/>
<circle cx="400.75" cy="174.50" r="4.15" fill="#88A4B8" stroke-width="0.75"/>
<circle cx="405.60" cy="162.30" r="4.15" fill="#5AACE0" stroke-width="1.1"/>
<circle cx="404.80" cy="164.20" r="4.15" fill="#5AACE0" stroke-width="1.1"/>
<circle cx="403.90" cy="166.20" r="4.15" fill="#5AACE0" stroke-width="1.1"/>
<circle cx="403.00" cy="168.20" r="4.15" fill="#5AACE0" stroke-width="1.1"/>
<circle cx="296.00" cy="181.25" r="4.15" fill="#D4D4D4" stroke-width="0.75"/>
<circle cx="211.25" cy="198.75" r="4.15" fill="#56B4E9" stroke-width="0.75"/>
<circle cx="255.50" cy="199.25" r="4.15" fill="#A8A8A8" stroke-width="0.75"/>
<circle cx="264.50" cy="196.75" r="4.15" fill="#88A8C0" stroke-width="0.75"/>
<circle cx="155.00" cy="211.25" r="4.15" fill="#3090D0" stroke-width="0.75"/>
<circle cx="180.50" cy="220.50" r="4.15" fill="#60B4E4" stroke-width="0.75"/>
<circle cx="143.75" cy="231.75" r="4.15" fill="#40A0E0" stroke-width="0.75"/>
<circle cx="148.75" cy="231.75" r="4.15" fill="#40A0E0" stroke-width="0.75"/>
<circle cx="118.75" cy="241.25" r="4.15" fill="#50ACE8" stroke-width="0.75"/>
<circle cx="79.50" cy="252.50" r="4.15" fill="#B0B0B0" stroke-width="1.1"/>
<circle cx="77.00" cy="256.00" r="4.15" fill="#B0B0B0" stroke-width="1.1"/>
<circle cx="82.00" cy="257.00" r="4.15" fill="#B0B0B0" stroke-width="1.1"/>
<circle cx="76.00" cy="261.00" r="4.15" fill="#B0B0B0" stroke-width="1.1"/>
<circle cx="82.50" cy="262.00" r="4.15" fill="#A8B0B8" stroke-width="1.1"/>
<circle cx="79.00" cy="265.00" r="4.15" fill="#B0B0B0" stroke-width="1.1"/>
<circle cx="71.25" cy="272.50" r="4.15" fill="#78A8CC" stroke-width="0.75"/>
<circle cx="88.75" cy="268.75" r="4.15" fill="#B0B0B0" stroke-width="0.75"/>
<circle cx="176.00" cy="284.50" r="4.15" fill="#C4C4C4" stroke-width="0.75"/>
<circle cx="253.50" cy="300.50" r="4.15" fill="#D0D0D0" stroke-width="0.75"/>
<circle cx="312.50" cy="238.25" r="4.15" fill="#D4D4D4" stroke-width="0.75"/>
<circle cx="289.00" cy="253.50" r="4.15" fill="#C8C8C8" stroke-width="1.25"/>
<circle cx="307.50" cy="259.50" r="4.15" fill="#B8B8B8" stroke-width="0.75"/>
<circle cx="315.00" cy="259.50" r="4.15" fill="#C0C0C0" stroke-width="0.75"/>
<circle cx="320.25" cy="253.25" r="4.15" fill="#7C98B0" stroke-width="0.75"/>
<circle cx="348.00" cy="182.30" r="4.15" fill="#D0D0D0" stroke-width="0.75"/>
<circle cx="348.00" cy="183.70" r="4.15" fill="#D0D0D0" stroke-width="0.75"/>
<circle cx="405.75" cy="201.50" r="4.15" fill="#A8A8A8" stroke-width="0.75"/>
<circle cx="410.75" cy="224.25" r="4.15" fill="#A8A8A8" stroke-width="0.75"/>
<circle cx="499.50" cy="189.00" r="4.15" fill="#56B4E9" stroke-width="0.75"/>
<circle cx="469.50" cy="236.00" r="4.15" fill="#60A8DC" stroke-width="0.75"/>
<circle cx="381.00" cy="243.25" r="4.15" fill="#D4D4D4" stroke-width="0.75"/>
<circle cx="369.25" cy="252.25" r="4.15" fill="#CCCCCC" stroke-width="0.75"/>
<circle cx="379.25" cy="287.75" r="4.15" fill="#C8C8C8" stroke-width="0.75"/>
<circle cx="374.25" cy="295.25" r="4.15" fill="#E0E0E0" stroke-width="0.75"/>
<circle cx="334.25" cy="305.20" r="4.15" fill="#D4D4D4" stroke-width="0.75"/>
<circle cx="170.75" cy="315.75" r="4.15" fill="#A8A8A8" stroke-width="0.75"/>
<circle cx="233.75" cy="339.00" r="4.15" fill="#D0D0D0" stroke-width="0.75"/>
<circle cx="115.75" cy="342.25" r="4.15" fill="#56B4E9" stroke-width="0.75"/>
<circle cx="175.00" cy="349.00" r="4.15" fill="#C8C8C8" stroke-width="0.75"/>
<circle cx="243.75" cy="370.75" r="4.15" fill="#CCCCCC" stroke-width="0.75"/>
<circle cx="189.25" cy="378.25" r="4.15" fill="#C4C4C4" stroke-width="0.75"/>
<circle cx="175.25" cy="385.50" r="4.15" fill="#C0C0C0" stroke-width="0.75"/>
<circle cx="153.70" cy="375.30" r="4.15" fill="#8CA5B8" stroke-width="1.1"/>
<circle cx="155.20" cy="377.80" r="4.15" fill="#8CA5B8" stroke-width="1.1"/>
<circle cx="157.00" cy="380.30" r="4.15" fill="#8CA5B8" stroke-width="1.1"/>
<circle cx="159.50" cy="382.60" r="4.15" fill="#8CA5B8" stroke-width="1.1"/>
<circle cx="162.00" cy="383.00" r="4.15" fill="#8CA5B8" stroke-width="1.1"/>
<circle cx="157.80" cy="376.80" r="4.15" fill="#8CA5B8" stroke-width="1.1"/>
<circle cx="160.30" cy="379.30" r="4.15" fill="#8CA5B8" stroke-width="1.1"/>
<circle cx="154.50" cy="403.00" r="4.15" fill="#7CA8CC" stroke-width="0.75"/>
<circle cx="163.75" cy="405.00" r="4.15" fill="#88A8C0" stroke-width="0.75"/>
<circle cx="278.00" cy="408.25" r="4.15" fill="#C0C0C0" stroke-width="0.75"/>
<circle cx="180.50" cy="427.50" r="4.15" fill="#9CA8B4" stroke-width="0.75"/>
<circle cx="177.00" cy="432.00" r="4.15" fill="#B0B0B0" stroke-width="0.75"/>
<circle cx="183.75" cy="433.75" r="4.15" fill="#60A8D8" stroke-width="1.25"/>
<circle cx="192.00" cy="437.25" r="4.15" fill="#B8B8B8" stroke-width="0.75"/>
<circle cx="182.00" cy="446.75" r="4.15" fill="#B4B4B4" stroke-width="0.75"/>
<circle cx="124.25" cy="435.00" r="4.15" fill="#B0B0B0" stroke-width="0.75"/>
<circle cx="235.00" cy="450.25" r="4.15" fill="#B8B8B8" stroke-width="0.75"/>
<circle cx="321.30" cy="448.40" r="4.15" fill="#B0B0B0" stroke-width="0.75"/>
<circle cx="30.00" cy="345.75" r="4.15" fill="#109878" stroke-width="0.75"/>
<circle cx="27.50" cy="331.25" r="4.15" fill="#D0D0D0" stroke-width="0.75"/>
<circle cx="44.00" cy="378.75" r="4.15" fill="#2080C0" stroke-width="0.75"/>
<circle cx="42.00" cy="385.75" r="4.15" fill="#2080C0" stroke-width="0.75"/>
<circle cx="43.50" cy="390.50" r="4.15" fill="#2080C4" stroke-width="0.75"/>
<circle cx="71.25" cy="395.50" r="4.15" fill="#1E78B4" stroke-width="0.75"/>
<circle cx="350.25" cy="315.25" r="4.15" fill="#D4D4D4" stroke-width="0.75"/>
<circle cx="356.25" cy="323.00" r="4.15" fill="#78A8CC" stroke-width="0.75"/>
<circle cx="339.50" cy="338.00" r="4.15" fill="#B8B8B8" stroke-width="0.75"/>
<circle cx="336.25" cy="343.75" r="4.15" fill="#70A8D0" stroke-width="1.25"/>
<circle cx="485.00" cy="349.50" r="4.15" fill="#78A8CC" stroke-width="0.75"/>
<circle cx="325.00" cy="388.25" r="4.15" fill="#C0C0C0" stroke-width="0.75"/>
<circle cx="365.50" cy="408.25" r="4.15" fill="#E8E040" stroke-width="0.75"/>
<circle cx="401.50" cy="411.50" r="4.15" fill="#8CA4B8" stroke-width="0.75"/>
<circle cx="440.50" cy="443.50" r="4.15" fill="#80A4C0" stroke-width="0.75"/>
<circle cx="179.80" cy="469.00" r="4.15" fill="#80A0C0" stroke-width="1.25"/>
<circle cx="180.70" cy="470.00" r="4.15" fill="#80A0C0" stroke-width="1.25"/>
<circle cx="325.50" cy="461.25" r="4.15" fill="#56B4E9" stroke-width="1.25"/>
<circle cx="396.25" cy="461.50" r="4.15" fill="#70ACDC" stroke-width="0.75"/>
<circle cx="383.25" cy="474.00" r="4.15" fill="#8CA4B8" stroke-width="0.75"/>
<circle cx="464.25" cy="478.50" r="4.15" fill="#8CA4B8" stroke-width="0.75"/>
<circle cx="321.80" cy="470.00" r="4.15" fill="#8CA4B8" stroke-width="0.75"/>
<circle cx="326.00" cy="470.60" r="4.15" fill="#70A8D8" stroke-width="0.75"/>
<circle cx="330.60" cy="472.30" r="4.15" fill="#109878" stroke-width="0.75"/>
<circle cx="334.30" cy="475.80" r="4.15" fill="#56B4E9" stroke-width="1.25"/>
<circle cx="210.00" cy="95.75" r="3.75" fill="#A8A8A8" style="stroke:none"/>
<circle cx="205.00" cy="99.00" r="3.75" fill="#A8A8A8" style="stroke:none"/>
<circle cx="208.50" cy="102.50" r="3.75" fill="#A8A8A8" style="stroke:none"/>
<circle cx="203.50" cy="103.00" r="3.75" fill="#A8A8A8" style="stroke:none"/>
<circle cx="405.60" cy="162.30" r="3.75" fill="#5AACE0" style="stroke:none"/>
<circle cx="404.80" cy="164.20" r="3.75" fill="#5AACE0" style="stroke:none"/>
<circle cx="403.90" cy="166.20" r="3.75" fill="#5AACE0" style="stroke:none"/>
<circle cx="403.00" cy="168.20" r="3.75" fill="#5AACE0" style="stroke:none"/>
<circle cx="79.50" cy="252.50" r="3.75" fill="#B0B0B0" style="stroke:none"/>
<circle cx="77.00" cy="256.00" r="3.75" fill="#B0B0B0" style="stroke:none"/>
<circle cx="82.00" cy="257.00" r="3.75" fill="#B0B0B0" style="stroke:none"/>
<circle cx="76.00" cy="261.00" r="3.75" fill="#B0B0B0" style="stroke:none"/>
<circle cx="82.50" cy="262.00" r="3.75" fill="#A8B0B8" style="stroke:none"/>
<circle cx="79.00" cy="265.00" r="3.75" fill="#B0B0B0" style="stroke:none"/>
<circle cx="153.70" cy="375.30" r="3.75" fill="#8CA5B8" style="stroke:none"/>
<circle cx="155.20" cy="377.80" r="3.75" fill="#8CA5B8" style="stroke:none"/>
<circle cx="157.00" cy="380.30" r="3.75" fill="#8CA5B8" style="stroke:none"/>
<circle cx="159.50" cy="382.60" r="3.75" fill="#8CA5B8" style="stroke:none"/>
<circle cx="162.00" cy="383.00" r="3.75" fill="#8CA5B8" style="stroke:none"/>
<circle cx="157.80" cy="376.80" r="3.75" fill="#8CA5B8" style="stroke:none"/>
<circle cx="160.30" cy="379.30" r="3.75" fill="#8CA5B8" style="stroke:none"/>
<circle cx="207.70" cy="105.80" r="3.2" fill="#2A8AD0" style="stroke:none"/>
<circle cx="79.50" cy="259.50" r="3.2" fill="#80A8C8" style="stroke:none"/>
<circle cx="164.40" cy="381.30" r="4.15" fill="#6AB0DC" stroke-width="0.75"/>
</g>
</g>
<g clip-path="url(#cr)">
<g class="b">
<polyline points="687.50,28.50 756.25,43.75 840.00,58.00"/>
<polyline points="756.25,43.75 734.50,160.00 720.50,234.25"/>
<polyline points="844.50,28.50 840.00,58.00 834.25,96.25"/>
<polyline points="834.25,96.25 891.25,105.75 963.00,113.60 1035.00,120.00 1092.50,123.75"/>
<polyline points="891.25,105.75 882.50,170.00 871.25,259.25 866.00,300.00 842.50,478.00"/>
<polyline points="1041.75,28.50 1040.00,42.50 1035.00,120.00"/>
<polyline points="1040.00,42.50 1113.50,47.00"/>
<polyline points="1092.50,123.75 1091.00,162.50 1083.75,279.50"/>
<polyline points="1091.00,162.50 1113.50,164.00"/>
<polyline points="720.50,234.25 871.25,259.25 880.00,260.50 967.00,270.00 1055.00,277.50 1083.75,279.50 1113.50,280.75"/>
<polyline points="1055.75,277.50 1053.75,297.50 1052.60,310.00 1045.90,400.00 1040.00,472.50"/>
<polyline points="1053.75,297.50 1113.50,300.50"/>
<polyline points="925.00,462.00 1040.00,472.50"/>
<polyline points="663.75,401.25 780.00,469.50 842.50,478.00 870.00,481.50 872.00,464.50 920.00,468.75 922.50,470.00"/>
<polyline points="925.00,462.00 923.50,466.00 922.50,470.00 930.00,472.50 935.00,477.50 936.25,483.75 942.50,490.00 948.75,496.25 955.00,502.50 960.00,508.75 967.50,515.00 973.75,520.50"/>
<polyline points="628.50,218.20 687.50,305.00"/>
<polyline points="720.50,234.25 718.75,242.50 716.25,260.00 713.75,267.50 710.00,270.00 706.25,268.75 705.00,265.00 700.00,263.00 693.75,264.50 692.50,270.00 691.25,290.00 692.00,300.00 687.50,305.00 688.75,312.50 691.25,318.75 693.00,327.50 696.25,332.50 698.75,337.50 692.50,341.25 686.25,345.00 682.00,350.00 680.00,358.75 676.25,363.75 672.00,368.75 673.25,375.00 672.50,380.00 676.25,383.75 678.00,387.50 676.25,391.25 671.25,393.75 665.00,398.75 663.75,401.25"/>
<polyline points="628.50,388.60 671.25,394.25"/>
<polyline points="652.00,421.25 653.75,423.75 657.50,427.00 658.75,431.25 662.50,430.50 665.00,433.75 670.00,438.00 676.25,443.00 681.25,445.50 684.50,444.50 685.00,440.00 687.00,443.00 692.50,446.25 694.50,448.75 693.75,453.00 697.50,455.00 702.50,458.00 706.25,460.50 710.50,462.50 711.25,465.50 708.75,468.75 707.00,475.00 707.50,482.50 710.50,490.00 712.50,497.50 714.50,505.00 715.00,512.50 716.25,520.50"/>
<polyline points="652.00,421.25 652.50,430.00 655.00,440.00 653.75,450.00 651.25,460.00 654.50,470.00 652.50,480.00 651.25,490.00 653.75,497.50 657.50,505.00 660.00,510.00 665.00,515.00 668.75,520.50"/>
<polyline points="628.50,517.30 633.75,520.50"/>
<polyline points="795.30,100.70 794.00,96.00 792.70,91.30 791.60,86.70 790.00,86.00 788.00,89.30 787.10,86.70 786.00,82.00 784.70,76.70 783.30,72.00 783.30,67.30 784.70,64.00 786.60,62.20 788.00,61.70 790.00,62.30 789.30,65.30 789.70,68.70 792.00,72.00 794.00,74.70 794.70,77.30 795.10,80.70 797.30,81.30 800.00,82.00 801.70,84.90 803.10,88.00 804.00,90.70 804.90,94.00"/>
<polyline points="800.40,88.70 800.10,93.30 801.70,94.70"/>
<polyline points="801.70,88.70 803.30,91.30"/>
</g>
<g class="p">
<circle cx="716.25" cy="39.25" r="4.15" fill="#E5E5E5" stroke-width="0.75"/>
<circle cx="817.50" cy="50.75" r="4.15" fill="#C0DEBE" stroke-width="0.75"/>
<circle cx="816.50" cy="60.25" r="4.15" fill="#C0DEBE" stroke-width="1.25"/>
<circle cx="809.25" cy="80.25" r="4.15" fill="#A8D8A0" stroke-width="0.75"/>
<circle cx="810.00" cy="95.75" r="4.15" fill="#A8D8A0" stroke-width="1.1"/>
<circle cx="805.00" cy="99.00" r="4.15" fill="#C8E0C8" stroke-width="1.1"/>
<circle cx="808.50" cy="102.50" r="4.15" fill="#C8E0C8" stroke-width="1.1"/>
<circle cx="803.50" cy="103.00" r="4.15" fill="#C8E0C8" stroke-width="1.1"/>
<circle cx="794.25" cy="105.75" r="4.15" fill="#A8D8A0" stroke-width="0.75"/>
<circle cx="803.00" cy="111.25" r="4.15" fill="#98D494" stroke-width="0.75"/>
<circle cx="811.25" cy="118.75" r="4.15" fill="#60BE78" stroke-width="0.75"/>
<circle cx="811.25" cy="127.00" r="4.15" fill="#60C078" stroke-width="0.75"/>
<circle cx="860.00" cy="128.00" r="4.15" fill="#4CB874" stroke-width="1.25"/>
<circle cx="874.00" cy="123.00" r="4.15" fill="#C0DEBE" stroke-width="0.75"/>
<circle cx="881.50" cy="125.25" r="4.15" fill="#C8E0C8" stroke-width="0.75"/>
<circle cx="895.25" cy="141.25" r="4.15" fill="#E5E5E5" stroke-width="0.75"/>
<circle cx="834.00" cy="151.50" r="4.15" fill="#A8D8A0" stroke-width="0.75"/>
<circle cx="729.50" cy="156.50" r="4.15" fill="#C8E0C8" stroke-width="0.75"/>
<circle cx="853.25" cy="68.25" r="4.15" fill="#E5E5E5" stroke-width="0.75"/>
<circle cx="889.50" cy="81.25" r="4.15" fill="#E5E5E5" stroke-width="0.75"/>
<circle cx="877.50" cy="30.00" r="4.15" fill="#E5E5E5" stroke-width="0.75"/>
<circle cx="884.50" cy="31.25" r="4.15" fill="#E5E5E5" stroke-width="0.75"/>
<circle cx="909.25" cy="35.50" r="4.15" fill="#E5E5E5" stroke-width="0.75"/>
<circle cx="908.25" cy="46.75" r="4.15" fill="#E5E5E5" stroke-width="0.75"/>
<circle cx="913.75" cy="168.90" r="4.15" fill="#C8E0C8" stroke-width="0.75"/>
<circle cx="943.75" cy="30.00" r="4.15" fill="#C8E0C8" stroke-width="0.75"/>
<circle cx="975.75" cy="43.50" r="4.15" fill="#A8D8A0" stroke-width="0.75"/>
<circle cx="1049.25" cy="87.00" r="4.15" fill="#E5E5E5" stroke-width="0.75"/>
<circle cx="993.25" cy="104.25" r="4.15" fill="#E5E5E5" stroke-width="0.75"/>
<circle cx="1015.00" cy="111.25" r="4.15" fill="#E5E5E5" stroke-width="1.25"/>
<circle cx="957.50" cy="130.75" r="4.15" fill="#DCE4DC" stroke-width="0.75"/>
<circle cx="966.25" cy="131.25" r="4.15" fill="#B0D8A8" stroke-width="0.75"/>
<circle cx="1002.00" cy="133.00" r="4.15" fill="#B0D8A8" stroke-width="0.75"/>
<circle cx="1004.50" cy="134.50" r="4.15" fill="#B0D8A8" stroke-width="0.75"/>
<circle cx="1014.25" cy="141.50" r="4.15" fill="#C8E0C8" stroke-width="0.75"/>
<circle cx="989.50" cy="144.25" r="4.15" fill="#E5E5E5" stroke-width="0.75"/>
<circle cx="1002.00" cy="149.75" r="4.15" fill="#A8D8A0" stroke-width="0.75"/>
<circle cx="1010.25" cy="149.00" r="4.15" fill="#C8E0C8" stroke-width="0.75"/>
<circle cx="996.50" cy="155.50" r="4.15" fill="#A8D8A0" stroke-width="0.75"/>
<circle cx="1000.75" cy="174.50" r="4.15" fill="#A0D49C" stroke-width="0.75"/>
<circle cx="1005.60" cy="162.30" r="4.15" fill="#A8D8A0" stroke-width="1.1"/>
<circle cx="1004.80" cy="164.20" r="4.15" fill="#A8D8A0" stroke-width="1.1"/>
<circle cx="1003.90" cy="166.20" r="4.15" fill="#A8D8A0" stroke-width="1.1"/>
<circle cx="1003.00" cy="168.20" r="4.15" fill="#A8D8A0" stroke-width="1.1"/>
<circle cx="896.00" cy="181.25" r="4.15" fill="#E5E5E5" stroke-width="0.75"/>
<circle cx="811.25" cy="198.75" r="4.15" fill="#C8E0C8" stroke-width="0.75"/>
<circle cx="855.50" cy="199.25" r="4.15" fill="#C8E0C8" stroke-width="0.75"/>
<circle cx="864.50" cy="196.75" r="4.15" fill="#B0D8A8" stroke-width="0.75"/>
<circle cx="755.00" cy="211.25" r="4.15" fill="#60BE78" stroke-width="0.75"/>
<circle cx="780.50" cy="220.50" r="4.15" fill="#88CC88" stroke-width="0.75"/>
<circle cx="743.75" cy="231.75" r="4.15" fill="#58BC78" stroke-width="0.75"/>
<circle cx="748.75" cy="231.75" r="4.15" fill="#4CB874" stroke-width="0.75"/>
<circle cx="718.75" cy="241.25" r="4.15" fill="#60BE78" stroke-width="0.75"/>
<circle cx="679.50" cy="252.50" r="4.15" fill="#D8E4D8" stroke-width="1.1"/>
<circle cx="677.00" cy="256.00" r="4.15" fill="#D8E4D8" stroke-width="1.1"/>
<circle cx="682.00" cy="257.00" r="4.15" fill="#D8E4D8" stroke-width="1.1"/>
<circle cx="676.00" cy="261.00" r="4.15" fill="#D8E4D8" stroke-width="1.1"/>
<circle cx="682.50" cy="262.00" r="4.15" fill="#D8E4D8" stroke-width="1.1"/>
<circle cx="679.00" cy="265.00" r="4.15" fill="#C8E0C8" stroke-width="1.1"/>
<circle cx="671.25" cy="272.50" r="4.15" fill="#A8D8A0" stroke-width="0.75"/>
<circle cx="688.75" cy="268.75" r="4.15" fill="#E5E5E5" stroke-width="0.75"/>
<circle cx="776.00" cy="284.50" r="4.15" fill="#E5E5E5" stroke-width="0.75"/>
<circle cx="853.50" cy="300.50" r="4.15" fill="#E5E5E5" stroke-width="0.75"/>
<circle cx="912.50" cy="238.25" r="4.15" fill="#E5E5E5" stroke-width="0.75"/>
<circle cx="889.00" cy="253.50" r="4.15" fill="#E5E5E5" stroke-width="1.25"/>
<circle cx="907.50" cy="259.50" r="4.15" fill="#E5E5E5" stroke-width="0.75"/>
<circle cx="915.00" cy="259.50" r="4.15" fill="#C8E0C8" stroke-width="0.75"/>
<circle cx="920.25" cy="253.25" r="4.15" fill="#A8D8A0" stroke-width="0.75"/>
<circle cx="948.00" cy="182.30" r="4.15" fill="#C8E0C8" stroke-width="0.75"/>
<circle cx="948.00" cy="183.70" r="4.15" fill="#C8E0C8" stroke-width="0.75"/>
<circle cx="1005.75" cy="201.50" r="4.15" fill="#C8E0C8" stroke-width="0.75"/>
<circle cx="1010.75" cy="224.25" r="4.15" fill="#C8E0C8" stroke-width="0.75"/>
<circle cx="1099.50" cy="189.00" r="4.15" fill="#88CC88" stroke-width="0.75"/>
<circle cx="1069.50" cy="236.00" r="4.15" fill="#98D494" stroke-width="0.75"/>
<circle cx="981.00" cy="243.25" r="4.15" fill="#E5E5E5" stroke-width="0.75"/>
<circle cx="969.25" cy="252.25" r="4.15" fill="#E5E5E5" stroke-width="0.75"/>
<circle cx="979.25" cy="287.75" r="4.15" fill="#E5E5E5" stroke-width="0.75"/>
<circle cx="974.25" cy="295.25" r="4.15" fill="#E5E5E5" stroke-width="0.75"/>
<circle cx="934.25" cy="305.20" r="4.15" fill="#E5E5E5" stroke-width="0.75"/>
<circle cx="770.75" cy="315.75" r="4.15" fill="#C8E0C8" stroke-width="0.75"/>
<circle cx="833.75" cy="339.00" r="4.15" fill="#E5E5E5" stroke-width="0.75"/>
<circle cx="715.75" cy="342.25" r="4.15" fill="#68C078" stroke-width="0.75"/>
<circle cx="775.00" cy="349.00" r="4.15" fill="#C8E0C8" stroke-width="0.75"/>
<circle cx="843.75" cy="370.75" r="4.15" fill="#E5E5E5" stroke-width="0.75"/>
<circle cx="789.25" cy="378.25" r="4.15" fill="#E5E5E5" stroke-width="0.75"/>
<circle cx="775.25" cy="385.50" r="4.15" fill="#E5E5E5" stroke-width="0.75"/>
<circle cx="753.70" cy="375.30" r="4.15" fill="#C0DEBE" stroke-width="1.1"/>
<circle cx="755.20" cy="377.80" r="4.15" fill="#C0DEBE" stroke-width="1.1"/>
<circle cx="757.00" cy="380.30" r="4.15" fill="#C0DEBE" stroke-width="1.1"/>
<circle cx="759.50" cy="382.60" r="4.15" fill="#C0DEBE" stroke-width="1.1"/>
<circle cx="762.00" cy="383.00" r="4.15" fill="#C0DEBE" stroke-width="1.1"/>
<circle cx="757.80" cy="376.80" r="4.15" fill="#B8DCB4" stroke-width="1.1"/>
<circle cx="760.30" cy="379.30" r="4.15" fill="#C0DEBE" stroke-width="1.1"/>
<circle cx="754.50" cy="403.00" r="4.15" fill="#A8D8A0" stroke-width="0.75"/>
<circle cx="763.75" cy="405.00" r="4.15" fill="#B0D8A8" stroke-width="0.75"/>
<circle cx="878.00" cy="408.25" r="4.15" fill="#E5E5E5" stroke-width="0.75"/>
<circle cx="780.50" cy="427.50" r="4.15" fill="#C8E0C8" stroke-width="0.75"/>
<circle cx="777.00" cy="432.00" r="4.15" fill="#C8E0C8" stroke-width="0.75"/>
<circle cx="783.75" cy="433.75" r="4.15" fill="#88CC88" stroke-width="1.25"/>
<circle cx="792.00" cy="437.25" r="4.15" fill="#E5E5E5" stroke-width="0.75"/>
<circle cx="782.00" cy="446.75" r="4.15" fill="#E5E5E5" stroke-width="0.75"/>
<circle cx="724.25" cy="435.00" r="4.15" fill="#C8E0C8" stroke-width="0.75"/>
<circle cx="835.00" cy="450.25" r="4.15" fill="#E5E5E5" stroke-width="0.75"/>
<circle cx="921.30" cy="448.40" r="4.15" fill="#E5E5E5" stroke-width="0.75"/>
<circle cx="630.00" cy="345.75" r="4.15" fill="#109070" stroke-width="0.75"/>
<circle cx="627.50" cy="331.25" r="4.15" fill="#E5E5E5" stroke-width="0.75"/>
<circle cx="644.00" cy="378.75" r="4.15" fill="#20A878" stroke-width="0.75"/>
<circle cx="642.00" cy="385.75" r="4.15" fill="#18A070" stroke-width="0.75"/>
<circle cx="643.50" cy="390.50" r="4.15" fill="#4CB874" stroke-width="0.75"/>
<circle cx="671.25" cy="395.50" r="4.15" fill="#20A878" stroke-width="0.75"/>
<circle cx="950.25" cy="315.25" r="4.15" fill="#E5E5E5" stroke-width="0.75"/>
<circle cx="956.25" cy="323.00" r="4.15" fill="#A8D8A0" stroke-width="0.75"/>
<circle cx="939.50" cy="338.00" r="4.15" fill="#E5E5E5" stroke-width="0.75"/>
<circle cx="936.25" cy="343.75" r="4.15" fill="#98D494" stroke-width="1.25"/>
<circle cx="1085.00" cy="349.50" r="4.15" fill="#A8D8A0" stroke-width="0.75"/>
<circle cx="925.00" cy="388.25" r="4.15" fill="#E5E5E5" stroke-width="0.75"/>
<circle cx="965.50" cy="408.25" r="4.15" fill="#30A870" stroke-width="0.75"/>
<circle cx="1001.50" cy="411.50" r="4.15" fill="#C8E0C8" stroke-width="0.75"/>
<circle cx="1040.50" cy="443.50" r="4.15" fill="#A8D8A0" stroke-width="0.75"/>
<circle cx="779.80" cy="469.00" r="4.15" fill="#A0D49C" stroke-width="1.25"/>
<circle cx="780.70" cy="470.00" r="4.15" fill="#A0D49C" stroke-width="1.25"/>
<circle cx="925.50" cy="461.25" r="4.15" fill="#88CC88" stroke-width="1.25"/>
<circle cx="996.25" cy="461.50" r="4.15" fill="#98D494" stroke-width="0.75"/>
<circle cx="983.25" cy="474.00" r="4.15" fill="#C8E0C8" stroke-width="0.75"/>
<circle cx="1064.25" cy="478.50" r="4.15" fill="#B0D8A8" stroke-width="0.75"/>
<circle cx="921.80" cy="470.00" r="4.15" fill="#C0DEBE" stroke-width="0.75"/>
<circle cx="926.00" cy="470.60" r="4.15" fill="#A8D8A0" stroke-width="0.75"/>
<circle cx="930.60" cy="472.30" r="4.15" fill="#2090A0" stroke-width="0.75"/>
<circle cx="934.30" cy="475.80" r="4.15" fill="#60BE78" stroke-width="1.25"/>
<circle cx="810.00" cy="95.75" r="3.75" fill="#A8D8A0" style="stroke:none"/>
<circle cx="805.00" cy="99.00" r="3.75" fill="#C8E0C8" style="stroke:none"/>
<circle cx="808.50" cy="102.50" r="3.75" fill="#C8E0C8" style="stroke:none"/>
<circle cx="803.50" cy="103.00" r="3.75" fill="#C8E0C8" style="stroke:none"/>
<circle cx="1005.60" cy="162.30" r="3.75" fill="#A8D8A0" style="stroke:none"/>
<circle cx="1004.80" cy="164.20" r="3.75" fill="#A8D8A0" style="stroke:none"/>
<circle cx="1003.90" cy="166.20" r="3.75" fill="#A8D8A0" style="stroke:none"/>
<circle cx="1003.00" cy="168.20" r="3.75" fill="#A8D8A0" style="stroke:none"/>
<circle cx="679.50" cy="252.50" r="3.75" fill="#D8E4D8" style="stroke:none"/>
<circle cx="677.00" cy="256.00" r="3.75" fill="#D8E4D8" style="stroke:none"/>
<circle cx="682.00" cy="257.00" r="3.75" fill="#D8E4D8" style="stroke:none"/>
<circle cx="676.00" cy="261.00" r="3.75" fill="#D8E4D8" style="stroke:none"/>
<circle cx="682.50" cy="262.00" r="3.75" fill="#D8E4D8" style="stroke:none"/>
<circle cx="679.00" cy="265.00" r="3.75" fill="#C8E0C8" style="stroke:none"/>
<circle cx="753.70" cy="375.30" r="3.75" fill="#C0DEBE" style="stroke:none"/>
<circle cx="755.20" cy="377.80" r="3.75" fill="#C0DEBE" style="stroke:none"/>
<circle cx="757.00" cy="380.30" r="3.75" fill="#C0DEBE" style="stroke:none"/>
<circle cx="759.50" cy="382.60" r="3.75" fill="#C0DEBE" style="stroke:none"/>
<circle cx="762.00" cy="383.00" r="3.75" fill="#C0DEBE" style="stroke:none"/>
<circle cx="757.80" cy="376.80" r="3.75" fill="#B8DCB4" style="stroke:none"/>
<circle cx="760.30" cy="379.30" r="3.75" fill="#C0DEBE" style="stroke:none"/>
<circle cx="807.70" cy="105.80" r="3.2" fill="#30B080" style="stroke:none"/>
<circle cx="679.50" cy="259.50" r="3.2" fill="#B8DCB8" style="stroke:none"/>
<circle cx="764.40" cy="381.30" r="4.15" fill="#C0DEBE" stroke-width="0.75"/>
</g>
</g>
<rect x="28.5" y="28.5" width="485" height="492" fill="none" stroke="#000" stroke-width="0.8"/>
<line x1="38.30" y1="520.5" x2="38.30" y2="527.5" stroke="#000" stroke-width="0.8"/>
<text x="38.30" y="546.6" text-anchor="middle">-115</text>
<line x1="104.87" y1="520.5" x2="104.87" y2="527.5" stroke="#000" stroke-width="0.8"/>
<text x="104.87" y="546.6" text-anchor="middle">-113</text>
<line x1="171.44" y1="520.5" x2="171.44" y2="527.5" stroke="#000" stroke-width="0.8"/>
<text x="171.44" y="546.6" text-anchor="middle">-111</text>
<line x1="238.01" y1="520.5" x2="238.01" y2="527.5" stroke="#000" stroke-width="0.8"/>
<text x="238.01" y="546.6" text-anchor="middle">-109</text>
<line x1="304.58" y1="520.5" x2="304.58" y2="527.5" stroke="#000" stroke-width="0.8"/>
<text x="304.58" y="546.6" text-anchor="middle">-107</text>
<line x1="371.15" y1="520.5" x2="371.15" y2="527.5" stroke="#000" stroke-width="0.8"/>
<text x="371.15" y="546.6" text-anchor="middle">-105</text>
<line x1="437.72" y1="520.5" x2="437.72" y2="527.5" stroke="#000" stroke-width="0.8"/>
<text x="437.72" y="546.6" text-anchor="middle">-103</text>
<line x1="504.29" y1="520.5" x2="504.29" y2="527.5" stroke="#000" stroke-width="0.8"/>
<text x="504.29" y="546.6" text-anchor="middle">-101</text>
<line x1="21.5" y1="42.50" x2="28.5" y2="42.50" stroke="#000" stroke-width="0.8"/>
<text transform="translate(12.0,42.90) rotate(-90)" text-anchor="middle">43</text>
<line x1="21.5" y1="120.17" x2="28.5" y2="120.17" stroke="#000" stroke-width="0.8"/>
<text transform="translate(12.0,120.57) rotate(-90)" text-anchor="middle">41</text>
<line x1="21.5" y1="197.84" x2="28.5" y2="197.84" stroke="#000" stroke-width="0.8"/>
<text transform="translate(12.0,198.24) rotate(-90)" text-anchor="middle">39</text>
<line x1="21.5" y1="275.51" x2="28.5" y2="275.51" stroke="#000" stroke-width="0.8"/>
<text transform="translate(12.0,275.91) rotate(-90)" text-anchor="middle">37</text>
<line x1="21.5" y1="353.18" x2="28.5" y2="353.18" stroke="#000" stroke-width="0.8"/>
<text transform="translate(12.0,353.58) rotate(-90)" text-anchor="middle">35</text>
<line x1="21.5" y1="430.85" x2="28.5" y2="430.85" stroke="#000" stroke-width="0.8"/>
<text transform="translate(12.0,431.25) rotate(-90)" text-anchor="middle">33</text>
<line x1="21.5" y1="508.52" x2="28.5" y2="508.52" stroke="#000" stroke-width="0.8"/>
<text transform="translate(12.0,508.92) rotate(-90)" text-anchor="middle">31</text>
<rect x="628.5" y="28.5" width="485" height="492" fill="none" stroke="#000" stroke-width="0.8"/>
<line x1="638.30" y1="520.5" x2="638.30" y2="527.5" stroke="#000" stroke-width="0.8"/>
<text x="638.30" y="546.6" text-anchor="middle">-115</text>
<line x1="704.87" y1="520.5" x2="704.87" y2="527.5" stroke="#000" stroke-width="0.8"/>
<text x="704.87" y="546.6" text-anchor="middle">-113</text>
<line x1="771.44" y1="520.5" x2="771.44" y2="527.5" stroke="#000" stroke-width="0.8"/>
<text x="771.44" y="546.6" text-anchor="middle">-111</text>
<line x1="838.01" y1="520.5" x2="838.01" y2="527.5" stroke="#000" stroke-width="0.8"/>
<text x="838.01" y="546.6" text-anchor="middle">-109</text>
<line x1="904.58" y1="520.5" x2="904.58" y2="527.5" stroke="#000" stroke-width="0.8"/>
<text x="904.58" y="546.6" text-anchor="middle">-107</text>
<line x1="971.15" y1="520.5" x2="971.15" y2="527.5" stroke="#000" stroke-width="0.8"/>
<text x="971.15" y="546.6" text-anchor="middle">-105</text>
<line x1="1037.72" y1="520.5" x2="1037.72" y2="527.5" stroke="#000" stroke-width="0.8"/>
<text x="1037.72" y="546.6" text-anchor="middle">-103</text>
<line x1="1104.29" y1="520.5" x2="1104.29" y2="527.5" stroke="#000" stroke-width="0.8"/>
<text x="1104.29" y="546.6" text-anchor="middle">-101</text>
<line x1="621.5" y1="42.50" x2="628.5" y2="42.50" stroke="#000" stroke-width="0.8"/>
<text transform="translate(612.0,42.90) rotate(-90)" text-anchor="middle">43</text>
<line x1="621.5" y1="120.17" x2="628.5" y2="120.17" stroke="#000" stroke-width="0.8"/>
<text transform="translate(612.0,120.57) rotate(-90)" text-anchor="middle">41</text>
<line x1="621.5" y1="197.84" x2="628.5" y2="197.84" stroke="#000" stroke-width="0.8"/>
<text transform="translate(612.0,198.24) rotate(-90)" text-anchor="middle">39</text>
<line x1="621.5" y1="275.51" x2="628.5" y2="275.51" stroke="#000" stroke-width="0.8"/>
<text transform="translate(612.0,275.91) rotate(-90)" text-anchor="middle">37</text>
<line x1="621.5" y1="353.18" x2="628.5" y2="353.18" stroke="#000" stroke-width="0.8"/>
<text transform="translate(612.0,353.58) rotate(-90)" text-anchor="middle">35</text>
<line x1="621.5" y1="430.85" x2="628.5" y2="430.85" stroke="#000" stroke-width="0.8"/>
<text transform="translate(612.0,431.25) rotate(-90)" text-anchor="middle">33</text>
<line x1="621.5" y1="508.52" x2="628.5" y2="508.52" stroke="#000" stroke-width="0.8"/>
<text transform="translate(612.0,508.92) rotate(-90)" text-anchor="middle">31</text>
<rect x="545.5" y="53.20" width="8.3" height="8.51" fill="#FF0000"/>
<rect x="545.5" y="61.41" width="8.3" height="8.51" fill="#F6151C"/>
<rect x="545.5" y="69.61" width="8.3" height="8.51" fill="#EE2939"/>
<rect x="545.5" y="77.82" width="8.3" height="8.51" fill="#E53E55"/>
<rect x="545.5" y="86.02" width="8.3" height="8.51" fill="#DC5271"/>
<rect x="545.5" y="94.23" width="8.3" height="8.51" fill="#D4678E"/>
<rect x="545.5" y="102.43" width="8.3" height="8.51" fill="#CC78A4"/>
<rect x="545.5" y="110.64" width="8.3" height="8.51" fill="#CE7487"/>
<rect x="545.5" y="118.84" width="8.3" height="8.51" fill="#CF6F6B"/>
<rect x="545.5" y="127.05" width="8.3" height="8.51" fill="#D16B4F"/>
<rect x="545.5" y="135.26" width="8.3" height="8.51" fill="#D26632"/>
<rect x="545.5" y="143.46" width="8.3" height="8.51" fill="#D46216"/>
<rect x="545.5" y="151.67" width="8.3" height="8.51" fill="#D66000"/>
<rect x="545.5" y="159.87" width="8.3" height="8.51" fill="#D96B00"/>
<rect x="545.5" y="168.08" width="8.3" height="8.51" fill="#DB7700"/>
<rect x="545.5" y="176.28" width="8.3" height="8.51" fill="#DE8200"/>
<rect x="545.5" y="184.49" width="8.3" height="8.51" fill="#E18D00"/>
<rect x="545.5" y="192.69" width="8.3" height="8.51" fill="#E49800"/>
<rect x="545.5" y="200.90" width="8.3" height="8.51" fill="#E7A304"/>
<rect x="545.5" y="209.11" width="8.3" height="8.51" fill="#E8AF0F"/>
<rect x="545.5" y="217.31" width="8.3" height="8.51" fill="#EABA1A"/>
<rect x="545.5" y="225.52" width="8.3" height="8.51" fill="#ECC625"/>
<rect x="545.5" y="233.72" width="8.3" height="8.51" fill="#EDD231"/>
<rect x="545.5" y="241.93" width="8.3" height="8.51" fill="#EFDD3C"/>
<rect x="545.5" y="250.13" width="8.3" height="8.51" fill="#DEDF46"/>
<rect x="545.5" y="258.34" width="8.3" height="8.51" fill="#B5D34E"/>
<rect x="545.5" y="266.54" width="8.3" height="8.51" fill="#8CC756"/>
<rect x="545.5" y="274.75" width="8.3" height="8.51" fill="#64BB5F"/>
<rect x="545.5" y="282.96" width="8.3" height="8.51" fill="#3BAF67"/>
<rect x="545.5" y="291.16" width="8.3" height="8.51" fill="#12A36F"/>
<rect x="545.5" y="299.37" width="8.3" height="8.51" fill="#009A79"/>
<rect x="545.5" y="307.57" width="8.3" height="8.51" fill="#009284"/>
<rect x="545.5" y="315.78" width="8.3" height="8.51" fill="#008B8E"/>
<rect x="545.5" y="323.98" width="8.3" height="8.51" fill="#008399"/>
<rect x="545.5" y="332.19" width="8.3" height="8.51" fill="#007CA4"/>
<rect x="545.5" y="340.39" width="8.3" height="8.51" fill="#0074AE"/>
<rect x="545.5" y="348.60" width="8.3" height="8.51" fill="#0A79B8"/>
<rect x="545.5" y="356.81" width="8.3" height="8.51" fill="#1885C2"/>
<rect x="545.5" y="365.01" width="8.3" height="8.51" fill="#2790CB"/>
<rect x="545.5" y="373.22" width="8.3" height="8.51" fill="#369BD4"/>
<rect x="545.5" y="381.42" width="8.3" height="8.51" fill="#44A6DE"/>
<rect x="545.5" y="389.63" width="8.3" height="8.51" fill="#53B2E7"/>
<rect x="545.5" y="397.83" width="8.3" height="8.51" fill="#5FB0DE"/>
<rect x="545.5" y="406.04" width="8.3" height="8.51" fill="#6AACD1"/>
<rect x="545.5" y="414.24" width="8.3" height="8.51" fill="#76A7C3"/>
<rect x="545.5" y="422.45" width="8.3" height="8.51" fill="#81A3B6"/>
<rect x="545.5" y="430.66" width="8.3" height="8.51" fill="#8C9EA8"/>
<rect x="545.5" y="438.86" width="8.3" height="8.51" fill="#989A9B"/>
<rect x="545.5" y="447.07" width="8.3" height="8.51" fill="#A4A4A4"/>
<rect x="545.5" y="455.27" width="8.3" height="8.51" fill="#B1B1B1"/>
<rect x="545.5" y="463.48" width="8.3" height="8.51" fill="#BEBEBE"/>
<rect x="545.5" y="471.68" width="8.3" height="8.51" fill="#CBCBCB"/>
<rect x="545.5" y="479.89" width="8.3" height="8.51" fill="#D8D8D8"/>
<rect x="545.5" y="488.09" width="8.3" height="8.51" fill="#E5E5E5"/>
<line x1="545.6" y1="53.2" x2="545.6" y2="496.3" stroke="#9AA" stroke-width="0.6"/>
<line x1="553.6" y1="53.2" x2="553.6" y2="496.3" stroke="#000" stroke-width="0.9"/>
<line x1="553.8" y1="492.00" x2="560.8" y2="492.00" stroke="#000" stroke-width="0.8"/>
<text x="568" y="496.30">0</text>
<line x1="553.8" y1="448.55" x2="560.8" y2="448.55" stroke="#000" stroke-width="0.8"/>
<text x="568" y="452.85">5</text>
<line x1="553.8" y1="405.10" x2="560.8" y2="405.10" stroke="#000" stroke-width="0.8"/>
<text x="568" y="409.40">10</text>
<line x1="553.8" y1="361.65" x2="560.8" y2="361.65" stroke="#000" stroke-width="0.8"/>
<text x="568" y="365.95">15</text>
<line x1="553.8" y1="318.20" x2="560.8" y2="318.20" stroke="#000" stroke-width="0.8"/>
<text x="568" y="322.50">20</text>
<line x1="553.8" y1="274.75" x2="560.8" y2="274.75" stroke="#000" stroke-width="0.8"/>
<text x="568" y="279.05">25</text>
<line x1="553.8" y1="231.30" x2="560.8" y2="231.30" stroke="#000" stroke-width="0.8"/>
<text x="568" y="235.60">30</text>
<line x1="553.8" y1="187.85" x2="560.8" y2="187.85" stroke="#000" stroke-width="0.8"/>
<text x="568" y="192.15">35</text>
<line x1="553.8" y1="144.40" x2="560.8" y2="144.40" stroke="#000" stroke-width="0.8"/>
<text x="568" y="148.70">40</text>
<line x1="553.8" y1="100.95" x2="560.8" y2="100.95" stroke="#000" stroke-width="0.8"/>
<text x="568" y="105.25">45</text>
<line x1="553.8" y1="57.50" x2="560.8" y2="57.50" stroke="#000" stroke-width="0.8"/>
<text x="568" y="61.80">50</text>
<text x="549.6" y="50" text-anchor="middle">ug/m3</text>
<rect x="1145.5" y="53.20" width="8.3" height="9.53" fill="#A52A2A"/>
<rect x="1145.5" y="62.43" width="8.3" height="9.53" fill="#A52A2A"/>
<rect x="1145.5" y="71.66" width="8.3" height="9.53" fill="#BE1E1E"/>
<rect x="1145.5" y="80.89" width="8.3" height="9.53" fill="#D71313"/>
<rect x="1145.5" y="90.12" width="8.3" height="9.53" fill="#F00707"/>
<rect x="1145.5" y="99.36" width="8.3" height="9.53" fill="#F90E14"/>
<rect x="1145.5" y="108.59" width="8.3" height="9.53" fill="#EA3245"/>
<rect x="1145.5" y="117.82" width="8.3" height="9.53" fill="#DB5576"/>
<rect x="1145.5" y="127.05" width="8.3" height="9.53" fill="#CC79A7"/>
<rect x="1145.5" y="136.28" width="8.3" height="9.53" fill="#CE727A"/>
<rect x="1145.5" y="145.51" width="8.3" height="9.53" fill="#D16A4D"/>
<rect x="1145.5" y="154.74" width="8.3" height="9.53" fill="#D36320"/>
<rect x="1145.5" y="163.98" width="8.3" height="9.53" fill="#D66300"/>
<rect x="1145.5" y="173.21" width="8.3" height="9.53" fill="#DB7400"/>
<rect x="1145.5" y="182.44" width="8.3" height="9.53" fill="#DF8500"/>
<rect x="1145.5" y="191.67" width="8.3" height="9.53" fill="#E49600"/>
<rect x="1145.5" y="200.90" width="8.3" height="9.53" fill="#E7A809"/>
<rect x="1145.5" y="210.13" width="8.3" height="9.53" fill="#EABA1A"/>
<rect x="1145.5" y="219.36" width="8.3" height="9.53" fill="#EDCC2B"/>
<rect x="1145.5" y="228.59" width="8.3" height="9.53" fill="#EFDF3D"/>
<rect x="1145.5" y="237.83" width="8.3" height="9.53" fill="#EEE461"/>
<rect x="1145.5" y="247.06" width="8.3" height="9.53" fill="#EBE48D"/>
<rect x="1145.5" y="256.29" width="8.3" height="9.53" fill="#E8E5B9"/>
<rect x="1145.5" y="265.52" width="8.3" height="9.53" fill="#E5E5E5"/>
<rect x="1145.5" y="274.75" width="8.3" height="9.53" fill="#E5E5E5"/>
<rect x="1145.5" y="283.98" width="8.3" height="9.53" fill="#CBDECC"/>
<rect x="1145.5" y="293.21" width="8.3" height="9.53" fill="#B0D8B2"/>
<rect x="1145.5" y="302.44" width="8.3" height="9.53" fill="#96D299"/>
<rect x="1145.5" y="311.68" width="8.3" height="9.53" fill="#7CCB80"/>
<rect x="1145.5" y="320.91" width="8.3" height="9.53" fill="#5ABE7C"/>
<rect x="1145.5" y="330.14" width="8.3" height="9.53" fill="#37B279"/>
<rect x="1145.5" y="339.37" width="8.3" height="9.53" fill="#15A675"/>
<rect x="1145.5" y="348.60" width="8.3" height="9.53" fill="#00987B"/>
<rect x="1145.5" y="357.83" width="8.3" height="9.53" fill="#008990"/>
<rect x="1145.5" y="367.06" width="8.3" height="9.53" fill="#007BA5"/>
<rect x="1145.5" y="376.29" width="8.3" height="9.53" fill="#0066BA"/>
<rect x="1145.5" y="385.53" width="8.3" height="9.53" fill="#0049CE"/>
<rect x="1145.5" y="394.76" width="8.3" height="9.53" fill="#002CE1"/>
<rect x="1145.5" y="403.99" width="8.3" height="9.53" fill="#000FF5"/>
<rect x="1145.5" y="413.22" width="8.3" height="9.53" fill="#1204FD"/>
<rect x="1145.5" y="422.45" width="8.3" height="9.53" fill="#350BFA"/>
<rect x="1145.5" y="431.68" width="8.3" height="9.53" fill="#5912F7"/>
<rect x="1145.5" y="440.91" width="8.3" height="9.53" fill="#7C19F3"/>
<rect x="1145.5" y="450.14" width="8.3" height="9.53" fill="#A020F0"/>
<rect x="1145.5" y="459.38" width="8.3" height="9.53" fill="#8D21CE"/>
<rect x="1145.5" y="468.61" width="8.3" height="9.53" fill="#7B21AD"/>
<rect x="1145.5" y="477.84" width="8.3" height="9.53" fill="#68228B"/>
<rect x="1145.5" y="487.07" width="8.3" height="9.53" fill="#68228B"/>
<line x1="1145.6" y1="53.2" x2="1145.6" y2="496.3" stroke="#9AA" stroke-width="0.6"/>
<line x1="1153.6" y1="53.2" x2="1153.6" y2="496.3" stroke="#000" stroke-width="0.9"/>
<line x1="1153.8" y1="58.00" x2="1160.8" y2="58.00" stroke="#000" stroke-width="0.8"/>
<text x="1168" y="62.30">3000</text>
<line x1="1153.8" y1="94.00" x2="1160.8" y2="94.00" stroke="#000" stroke-width="0.8"/>
<text x="1168" y="98.30">40</text>
<line x1="1153.8" y1="184.20" x2="1160.8" y2="184.20" stroke="#000" stroke-width="0.8"/>
<text x="1168" y="188.50">20</text>
<line x1="1153.8" y1="274.60" x2="1160.8" y2="274.60" stroke="#000" stroke-width="0.8"/>
<text x="1168" y="278.90">0</text>
<line x1="1153.8" y1="365.20" x2="1160.8" y2="365.20" stroke="#000" stroke-width="0.8"/>
<text x="1168" y="369.50">-20</text>
<line x1="1153.8" y1="455.50" x2="1160.8" y2="455.50" stroke="#000" stroke-width="0.8"/>
<text x="1168" y="459.80">-40</text>
<line x1="1153.8" y1="491.20" x2="1160.8" y2="491.20" stroke="#000" stroke-width="0.8"/>
<text x="1168" y="495.50">-280</text>
<text x="1149.6" y="50" text-anchor="middle">ug/m3</text>
<circle cx="472.4" cy="506.3" r="2.6" fill="#000"/>
<text x="483.3" y="510.7" textLength="24.7" lengthAdjust="spacingAndGlyphs">AQS</text>
<circle cx="1072.4" cy="506.3" r="2.6" fill="#000"/>
<text x="1083.3" y="510.7" textLength="24.7" lengthAdjust="spacingAndGlyphs">AQS</text>
<text class="ttl" x="271" y="20.3" text-anchor="middle">EMBER 36km: ATOTIJ_AVG on 06/17/2024</text>
<text class="ttl" x="871.5" y="20.3" text-anchor="middle">EMBER bias: ATOTIJ_AVG on 06/17/2024</text>
<text x="271.4" y="568.4" text-anchor="middle" textLength="268" lengthAdjust="spacing">Domain size: 37x37 | Max Model = 160 at (26, 14)</text>
<text x="271" y="582.1" text-anchor="middle">Max Obs: 27</text>
<text x="871.4" y="568.4" text-anchor="middle">Bias Summary: [ min, 25th %, 50th %, 75th %, max ]</text>
<text x="810.5" y="582.1">[</text><text x="817.3" y="582.1">-18,</text><text x="846.2" y="582.1">-5.3,</text><text x="879.3" y="582.1">-3.7,</text><text x="912.2" y="582.1">-1.9,</text><text x="945" y="582.1">0.89</text><text x="971.2" y="582.1">]</text>
</svg>
</body></html>
